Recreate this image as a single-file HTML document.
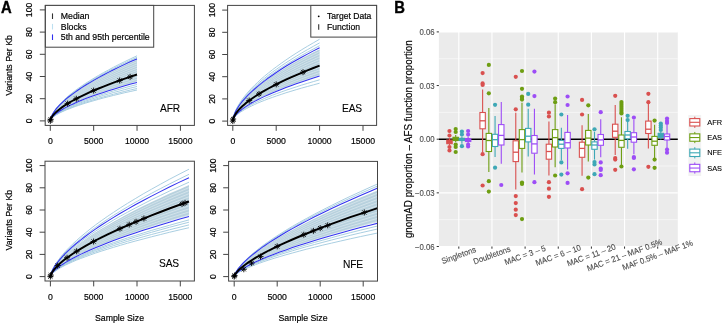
<!DOCTYPE html>
<html><head><meta charset="utf-8"><style>
html,body{margin:0;padding:0;background:#fff;}
svg{display:block;will-change:transform;}
text{font-family:"Liberation Sans", sans-serif;}
</style></head><body>
<svg width="724" height="325" viewBox="0 0 724 325">
<clipPath id="clipAFR"><rect x="45.2" y="5.4" width="149.2" height="120.0"/></clipPath>
<g clip-path="url(#clipAFR)">
<path d="M50.3,120.9 50.3,120.3 50.5,119.3 50.8,118.2 51.3,116.9 52.0,115.4 52.8,113.9 53.8,112.3 55.0,110.6 56.4,108.9 58.0,107.0 59.8,105.1 61.9,103.1 64.1,101.1 66.5,99.0 69.2,96.9 72.1,94.7 75.2,92.5 78.5,90.2 82.1,87.9 85.8,85.5 89.9,83.1 94.1,80.7 98.6,78.2 103.4,75.7 108.4,73.1 113.6,70.5 119.1,67.9 124.8,65.2 130.8,62.5 137.0,59.8 L137.0,81.8 L130.8,83.5 L124.8,85.3 L119.1,87.0 L113.6,88.7 L108.4,90.3 L103.4,92.0 L98.6,93.6 L94.1,95.2 L89.9,96.7 L85.8,98.3 L82.1,99.8 L78.5,101.3 L75.2,102.7 L72.1,104.2 L69.2,105.5 L66.5,106.9 L64.1,108.2 L61.9,109.5 L59.8,110.8 L58.0,112.0 L56.4,113.2 L55.0,114.3 L53.8,115.4 L52.8,116.4 L52.0,117.4 L51.3,118.3 L50.8,119.1 L50.5,119.9 L50.3,120.5 L50.3,120.9 Z" fill="#bcd4e0"/>
<path d="M50.3,120.9 50.3,120.5 50.5,119.9 50.8,119.1 51.3,118.3 52.0,117.4 52.8,116.4 53.8,115.4 55.0,114.3 56.4,113.1 58.0,111.9 59.8,110.7 61.9,109.4 64.1,108.1 66.5,106.8 69.2,105.4 72.1,104.0 75.2,102.6 78.5,101.1 82.1,99.6 85.8,98.1 89.9,96.5 94.1,94.9 98.6,93.3 103.4,91.7 108.4,90.0 113.6,88.4 119.1,86.7 124.8,84.9 130.8,83.2 137.0,81.4 M50.3,120.9 50.3,120.5 50.5,119.8 50.8,119.0 51.3,118.1 52.0,117.2 52.8,116.1 53.8,115.0 55.0,113.9 56.4,112.7 58.0,111.4 59.8,110.1 61.9,108.8 64.1,107.4 66.5,106.0 69.2,104.5 72.1,103.1 75.2,101.5 78.5,100.0 82.1,98.4 85.8,96.8 89.9,95.1 94.1,93.5 98.6,91.8 103.4,90.1 108.4,88.3 113.6,86.5 119.1,84.8 124.8,82.9 130.8,81.1 137.0,79.2 M50.3,120.9 50.3,120.5 50.5,119.8 50.8,118.9 51.3,118.0 52.0,117.0 52.8,115.9 53.8,114.7 55.0,113.5 56.4,112.3 58.0,110.9 59.8,109.6 61.9,108.2 64.1,106.7 66.5,105.2 69.2,103.7 72.1,102.1 75.2,100.5 78.5,98.9 82.1,97.2 85.8,95.5 89.9,93.8 94.1,92.0 98.6,90.2 103.4,88.4 108.4,86.6 113.6,84.7 119.1,82.8 124.8,80.9 130.8,79.0 137.0,77.0 M50.3,120.9 50.3,120.4 50.5,119.7 50.8,118.8 51.3,117.9 52.0,116.8 52.8,115.6 53.8,114.4 55.0,113.2 56.4,111.8 58.0,110.4 59.8,109.0 61.9,107.5 64.1,106.0 66.5,104.4 69.2,102.8 72.1,101.2 75.2,99.5 78.5,97.8 82.1,96.0 85.8,94.2 89.9,92.4 94.1,90.6 98.6,88.7 103.4,86.8 108.4,84.9 113.6,82.9 119.1,80.9 124.8,78.9 130.8,76.9 137.0,74.8 M50.3,120.9 50.3,120.4 50.5,119.6 50.8,118.7 51.3,117.7 52.0,116.6 52.8,115.4 53.8,114.1 55.0,112.8 56.4,111.4 58.0,109.9 59.8,108.4 61.9,106.9 64.1,105.3 66.5,103.6 69.2,101.9 72.1,100.2 75.2,98.5 78.5,96.7 82.1,94.8 85.8,93.0 89.9,91.1 94.1,89.1 98.6,87.2 103.4,85.2 108.4,83.2 113.6,81.1 119.1,79.0 124.8,76.9 130.8,74.8 137.0,72.6 M50.3,120.9 50.3,120.4 50.5,119.6 50.8,118.6 51.3,117.6 52.0,116.4 52.8,115.1 53.8,113.8 55.0,112.4 56.4,110.9 58.0,109.4 59.8,107.9 61.9,106.2 64.1,104.6 66.5,102.8 69.2,101.1 72.1,99.3 75.2,97.4 78.5,95.6 82.1,93.6 85.8,91.7 89.9,89.7 94.1,87.7 98.6,85.6 103.4,83.5 108.4,81.4 113.6,79.3 119.1,77.1 124.8,74.9 130.8,72.7 137.0,70.4 M50.3,120.9 50.3,120.4 50.5,119.5 50.8,118.5 51.3,117.4 52.0,116.2 52.8,114.9 53.8,113.5 55.0,112.0 56.4,110.5 58.0,108.9 59.8,107.3 61.9,105.6 64.1,103.8 66.5,102.1 69.2,100.2 72.1,98.3 75.2,96.4 78.5,94.5 82.1,92.5 85.8,90.4 89.9,88.3 94.1,86.2 98.6,84.1 103.4,81.9 108.4,79.7 113.6,77.5 119.1,75.2 124.8,72.9 130.8,70.6 137.0,68.2 M50.3,120.9 50.3,120.3 50.5,119.5 50.8,118.4 51.3,117.3 52.0,116.0 52.8,114.6 53.8,113.2 55.0,111.7 56.4,110.1 58.0,108.4 59.8,106.7 61.9,105.0 64.1,103.1 66.5,101.3 69.2,99.4 72.1,97.4 75.2,95.4 78.5,93.3 82.1,91.3 85.8,89.1 89.9,87.0 94.1,84.8 98.6,82.6 103.4,80.3 108.4,78.0 113.6,75.7 119.1,73.3 124.8,70.9 130.8,68.5 137.0,66.0 M50.3,120.9 50.3,120.3 50.5,119.4 50.8,118.3 51.3,117.1 52.0,115.8 52.8,114.4 53.8,112.9 55.0,111.3 56.4,109.6 58.0,107.9 59.8,106.2 61.9,104.3 64.1,102.4 66.5,100.5 69.2,98.5 72.1,96.5 75.2,94.4 78.5,92.2 82.1,90.1 85.8,87.9 89.9,85.6 94.1,83.3 98.6,81.0 103.4,78.7 108.4,76.3 113.6,73.8 119.1,71.4 124.8,68.9 130.8,66.4 137.0,63.8 M50.3,120.9 50.3,120.3 50.5,119.4 50.8,118.2 51.3,117.0 52.0,115.6 52.8,114.1 53.8,112.6 55.0,110.9 56.4,109.2 58.0,107.4 59.8,105.6 61.9,103.7 64.1,101.7 66.5,99.7 69.2,97.6 72.1,95.5 75.2,93.3 78.5,91.1 82.1,88.9 85.8,86.6 89.9,84.3 94.1,81.9 98.6,79.5 103.4,77.0 108.4,74.6 113.6,72.0 119.1,69.5 124.8,66.9 130.8,64.3 137.0,61.6" fill="none" stroke="#ffffff" stroke-opacity="0.45" stroke-width="0.8"/>
<path d="M50.3,120.9 50.3,120.5 50.5,119.9 50.8,119.1 51.3,118.2 52.0,117.3 52.8,116.3 53.8,115.3 55.0,114.1 56.4,113.0 58.0,111.8 59.8,110.5 61.9,109.2 64.1,107.9 66.5,106.5 69.2,105.1 72.1,103.7 75.2,102.2 78.5,100.7 82.1,99.2 85.8,97.6 89.9,96.1 94.1,94.4 98.6,92.8 103.4,91.1 108.4,89.5 113.6,87.8 119.1,86.0 124.8,84.3 130.8,82.5 137.0,80.7 M50.3,120.9 50.3,120.5 50.5,119.8 50.8,119.0 51.3,118.1 52.0,117.1 52.8,116.1 53.8,114.9 55.0,113.8 56.4,112.5 58.0,111.3 59.8,109.9 61.9,108.6 64.1,107.2 66.5,105.7 69.2,104.3 72.1,102.7 75.2,101.2 78.5,99.6 82.1,98.0 85.8,96.4 89.9,94.7 94.1,93.0 98.6,91.3 103.4,89.5 108.4,87.7 113.6,85.9 119.1,84.1 124.8,82.3 130.8,80.4 137.0,78.5 M50.3,120.9 50.3,120.4 50.5,119.7 50.8,118.9 51.3,118.0 52.0,116.9 52.8,115.8 53.8,114.6 55.0,113.4 56.4,112.1 58.0,110.8 59.8,109.4 61.9,107.9 64.1,106.5 66.5,104.9 69.2,103.4 72.1,101.8 75.2,100.2 78.5,98.5 82.1,96.8 85.8,95.1 89.9,93.3 94.1,91.5 98.6,89.7 103.4,87.9 108.4,86.0 113.6,84.1 119.1,82.2 124.8,80.3 130.8,78.3 137.0,76.3 M50.3,120.9 50.3,120.4 50.5,119.7 50.8,118.8 51.3,117.8 52.0,116.7 52.8,115.6 53.8,114.3 55.0,113.0 56.4,111.7 58.0,110.3 59.8,108.8 61.9,107.3 64.1,105.7 66.5,104.2 69.2,102.5 72.1,100.9 75.2,99.1 78.5,97.4 82.1,95.6 85.8,93.8 89.9,92.0 94.1,90.1 98.6,88.2 103.4,86.3 108.4,84.3 113.6,82.3 119.1,80.3 124.8,78.3 130.8,76.2 137.0,74.1 M50.3,120.9 50.3,120.4 50.5,119.6 50.8,118.7 51.3,117.7 52.0,116.5 52.8,115.3 53.8,114.0 55.0,112.7 56.4,111.2 58.0,109.8 59.8,108.2 61.9,106.7 64.1,105.0 66.5,103.4 69.2,101.7 72.1,99.9 75.2,98.1 78.5,96.3 82.1,94.4 85.8,92.5 89.9,90.6 94.1,88.6 98.6,86.7 103.4,84.6 108.4,82.6 113.6,80.5 119.1,78.4 124.8,76.3 130.8,74.1 137.0,71.9 M50.3,120.9 50.3,120.4 50.5,119.6 50.8,118.6 51.3,117.5 52.0,116.3 52.8,115.1 53.8,113.7 55.0,112.3 56.4,110.8 58.0,109.3 59.8,107.7 61.9,106.0 64.1,104.3 66.5,102.6 69.2,100.8 72.1,99.0 75.2,97.1 78.5,95.2 82.1,93.2 85.8,91.3 89.9,89.3 94.1,87.2 98.6,85.1 103.4,83.0 108.4,80.9 113.6,78.7 119.1,76.5 124.8,74.2 130.8,72.0 137.0,69.7 M50.3,120.9 50.3,120.4 50.5,119.5 50.8,118.5 51.3,117.4 52.0,116.1 52.8,114.8 53.8,113.4 55.0,111.9 56.4,110.4 58.0,108.8 59.8,107.1 61.9,105.4 64.1,103.6 66.5,101.8 69.2,99.9 72.1,98.0 75.2,96.1 78.5,94.1 82.1,92.1 85.8,90.0 89.9,87.9 94.1,85.8 98.6,83.6 103.4,81.4 108.4,79.1 113.6,76.9 119.1,74.6 124.8,72.2 130.8,69.9 137.0,67.5 M50.3,120.9 50.3,120.3 50.5,119.5 50.8,118.4 51.3,117.2 52.0,115.9 52.8,114.6 53.8,113.1 55.0,111.5 56.4,109.9 58.0,108.3 59.8,106.5 61.9,104.7 64.1,102.9 66.5,101.0 69.2,99.1 72.1,97.1 75.2,95.1 78.5,93.0 82.1,90.9 85.8,88.7 89.9,86.5 94.1,84.3 98.6,82.0 103.4,79.7 108.4,77.4 113.6,75.1 119.1,72.7 124.8,70.2 130.8,67.8 137.0,65.3 M50.3,120.9 50.3,120.3 50.5,119.4 50.8,118.3 51.3,117.1 52.0,115.7 52.8,114.3 53.8,112.8 55.0,111.2 56.4,109.5 58.0,107.8 59.8,106.0 61.9,104.1 64.1,102.2 66.5,100.2 69.2,98.2 72.1,96.1 75.2,94.0 78.5,91.9 82.1,89.7 85.8,87.4 89.9,85.2 94.1,82.9 98.6,80.5 103.4,78.1 108.4,75.7 113.6,73.2 119.1,70.8 124.8,68.2 130.8,65.7 137.0,63.1 M50.3,120.9 50.3,120.3 50.5,119.3 50.8,118.2 51.3,116.9 52.0,115.5 52.8,114.1 53.8,112.5 55.0,110.8 56.4,109.1 58.0,107.3 59.8,105.4 61.9,103.5 64.1,101.5 66.5,99.4 69.2,97.3 72.1,95.2 75.2,93.0 78.5,90.8 82.1,88.5 85.8,86.2 89.9,83.8 94.1,81.4 98.6,79.0 103.4,76.5 108.4,74.0 113.6,71.4 119.1,68.8 124.8,66.2 130.8,63.6 137.0,60.9" fill="none" stroke="#a9c8d8" stroke-opacity="0.5" stroke-width="0.7"/>
<path d="M50.3,120.9 50.3,120.2 50.5,119.2 50.8,118.0 51.3,116.6 52.0,115.1 52.8,113.5 53.8,111.8 55.0,109.9 56.4,108.1 58.0,106.1 59.8,104.1 61.9,102.0 64.1,99.8 66.5,97.6 69.2,95.3 72.1,93.0 75.2,90.6 78.5,88.2 82.1,85.7 85.8,83.2 89.9,80.7 94.1,78.1 98.6,75.4 103.4,72.7 108.4,70.0 113.6,67.2 119.1,64.4 124.8,61.6 130.8,58.7 137.0,55.8 M50.3,120.9 50.3,120.3 50.5,119.3 50.8,118.0 51.3,116.7 52.0,115.2 52.8,113.6 53.8,112.0 55.0,110.2 56.4,108.4 58.0,106.4 59.8,104.5 61.9,102.4 64.1,100.3 66.5,98.1 69.2,95.9 72.1,93.7 75.2,91.3 78.5,89.0 82.1,86.5 85.8,84.1 89.9,81.6 94.1,79.0 98.6,76.5 103.4,73.8 108.4,71.2 113.6,68.5 119.1,65.7 124.8,63.0 130.8,60.1 137.0,57.3 M50.3,120.9 50.3,120.3 50.5,119.3 50.8,118.1 51.3,116.8 52.0,115.3 52.8,113.8 53.8,112.1 55.0,110.4 56.4,108.6 58.0,106.7 59.8,104.7 61.9,102.7 64.1,100.7 66.5,98.5 69.2,96.4 72.1,94.1 75.2,91.8 78.5,89.5 82.1,87.1 85.8,84.7 89.9,82.3 94.1,79.8 98.6,77.2 103.4,74.6 108.4,72.0 113.6,69.4 119.1,66.7 124.8,64.0 130.8,61.2 137.0,58.4 M50.3,120.9 50.3,120.5 50.5,120.0 50.8,119.3 51.3,118.5 52.0,117.7 52.8,116.7 53.8,115.8 55.0,114.8 56.4,113.7 58.0,112.6 59.8,111.5 61.9,110.3 64.1,109.1 66.5,107.9 69.2,106.6 72.1,105.3 75.2,104.0 78.5,102.6 82.1,101.2 85.8,99.8 89.9,98.4 94.1,96.9 98.6,95.5 103.4,94.0 108.4,92.4 113.6,90.9 119.1,89.3 124.8,87.7 130.8,86.1 137.0,84.5 M50.3,120.9 50.3,120.5 50.5,120.0 50.8,119.4 51.3,118.6 52.0,117.8 52.8,117.0 53.8,116.1 55.0,115.1 56.4,114.1 58.0,113.1 59.8,112.0 61.9,110.9 64.1,109.8 66.5,108.6 69.2,107.4 72.1,106.2 75.2,104.9 78.5,103.6 82.1,102.3 85.8,101.0 89.9,99.6 94.1,98.3 98.6,96.9 103.4,95.4 108.4,94.0 113.6,92.5 119.1,91.1 124.8,89.6 130.8,88.0 137.0,86.5 M50.3,120.9 50.3,120.6 50.5,120.1 50.8,119.4 51.3,118.8 52.0,118.0 52.8,117.2 53.8,116.3 55.0,115.4 56.4,114.5 58.0,113.5 59.8,112.5 61.9,111.5 64.1,110.4 66.5,109.3 69.2,108.2 72.1,107.0 75.2,105.8 78.5,104.6 82.1,103.4 85.8,102.1 89.9,100.9 94.1,99.6 98.6,98.3 103.4,96.9 108.4,95.6 113.6,94.2 119.1,92.8 124.8,91.4 130.8,89.9 137.0,88.5 M50.3,120.9 50.3,120.6 50.5,120.1 50.8,119.5 51.3,118.9 52.0,118.1 52.8,117.4 53.8,116.6 55.0,115.7 56.4,114.8 58.0,113.9 59.8,112.9 61.9,111.9 64.1,110.9 66.5,109.8 69.2,108.8 72.1,107.7 75.2,106.5 78.5,105.4 82.1,104.2 85.8,103.0 89.9,101.8 94.1,100.6 98.6,99.3 103.4,98.0 108.4,96.7 113.6,95.4 119.1,94.1 124.8,92.7 130.8,91.4 137.0,90.0" fill="none" stroke="#a0c9de" stroke-opacity="0.9" stroke-width="1.0"/>
<path d="M50.3,120.9 50.3,120.3 50.5,119.3 50.8,118.1 51.3,116.8 52.0,115.4 52.8,113.8 53.8,112.2 55.0,110.5 56.4,108.7 58.0,106.8 59.8,104.9 61.9,102.9 64.1,100.8 66.5,98.7 69.2,96.5 72.1,94.3 75.2,92.1 78.5,89.8 82.1,87.4 85.8,85.0 89.9,82.6 94.1,80.1 98.6,77.6 103.4,75.0 108.4,72.4 113.6,69.8 119.1,67.1 124.8,64.4 130.8,61.6 137.0,58.9" fill="none" stroke="#3333f0" stroke-width="1.05"/>
<path d="M50.3,120.9 50.3,120.5 50.5,119.9 50.8,119.2 51.3,118.4 52.0,117.5 52.8,116.5 53.8,115.5 55.0,114.4 56.4,113.3 58.0,112.2 59.8,111.0 61.9,109.7 64.1,108.4 66.5,107.1 69.2,105.8 72.1,104.4 75.2,103.0 78.5,101.6 82.1,100.1 85.8,98.6 89.9,97.1 94.1,95.6 98.6,94.0 103.4,92.4 108.4,90.8 113.6,89.2 119.1,87.5 124.8,85.8 130.8,84.1 137.0,82.4" fill="none" stroke="#3333f0" stroke-width="1.05"/>
<path d="M50.3,120.9 50.3,120.4 50.5,119.7 50.8,118.8 51.3,117.8 52.0,116.8 52.8,115.6 53.8,114.4 55.0,113.1 56.4,111.8 58.0,110.4 59.8,108.9 61.9,107.4 64.1,105.9 66.5,104.3 69.2,102.7 72.1,101.0 75.2,99.3 78.5,97.6 82.1,95.9 85.8,94.1 89.9,92.2 94.1,90.4 98.6,88.5 103.4,86.6 108.4,84.6 113.6,82.7 119.1,80.7 124.8,78.7 130.8,76.6 137.0,74.5" fill="none" stroke="#000" stroke-width="1.95"/>
<g stroke="#000" stroke-width="0.9"><line x1="47.30" y1="120.90" x2="53.30" y2="120.90"/><line x1="50.30" y1="117.90" x2="50.30" y2="123.90"/><line x1="48.20" y1="118.80" x2="52.40" y2="123.00"/><line x1="48.20" y1="123.00" x2="52.40" y2="118.80"/></g>
<g stroke="#000" stroke-width="0.9"><line x1="47.65" y1="119.33" x2="53.65" y2="119.33"/><line x1="50.65" y1="116.33" x2="50.65" y2="122.33"/><line x1="48.55" y1="117.23" x2="52.75" y2="121.43"/><line x1="48.55" y1="121.43" x2="52.75" y2="117.23"/></g>
<g stroke="#000" stroke-width="0.9"><line x1="64.65" y1="103.62" x2="70.65" y2="103.62"/><line x1="67.65" y1="100.62" x2="67.65" y2="106.62"/><line x1="65.55" y1="101.52" x2="69.75" y2="105.72"/><line x1="65.55" y1="105.72" x2="69.75" y2="101.52"/></g>
<g stroke="#000" stroke-width="0.9"><line x1="73.32" y1="98.74" x2="79.32" y2="98.74"/><line x1="76.32" y1="95.74" x2="76.32" y2="101.74"/><line x1="74.22" y1="96.64" x2="78.42" y2="100.84"/><line x1="74.22" y1="100.84" x2="78.42" y2="96.64"/></g>
<g stroke="#000" stroke-width="0.9"><line x1="90.67" y1="90.59" x2="96.67" y2="90.59"/><line x1="93.67" y1="87.59" x2="93.67" y2="93.59"/><line x1="91.57" y1="88.49" x2="95.77" y2="92.69"/><line x1="91.57" y1="92.69" x2="95.77" y2="88.49"/></g>
<g stroke="#000" stroke-width="0.9"><line x1="116.69" y1="80.47" x2="122.69" y2="80.47"/><line x1="119.69" y1="77.47" x2="119.69" y2="83.47"/><line x1="117.59" y1="78.37" x2="121.79" y2="82.57"/><line x1="117.59" y1="82.57" x2="121.79" y2="78.37"/></g>
<g stroke="#000" stroke-width="0.9"><line x1="127.10" y1="76.85" x2="133.10" y2="76.85"/><line x1="130.10" y1="73.85" x2="130.10" y2="79.85"/><line x1="128.00" y1="74.75" x2="132.20" y2="78.95"/><line x1="128.00" y1="78.95" x2="132.20" y2="74.75"/></g>
</g>
<rect x="45.2" y="5.4" width="149.20" height="120.00" fill="none" stroke="#444" stroke-width="1"/>
<line x1="39.80" y1="120.90" x2="45.20" y2="120.90" stroke="#444" stroke-width="1"/>
<text transform="translate(29.40 120.90) rotate(-90) scale(1 1.07)" text-anchor="middle" dominant-baseline="central" font-size="8.7" fill="#000" stroke="#000" stroke-width="0.18">0</text>
<line x1="39.80" y1="98.70" x2="45.20" y2="98.70" stroke="#444" stroke-width="1"/>
<text transform="translate(29.40 98.70) rotate(-90) scale(1 1.07)" text-anchor="middle" dominant-baseline="central" font-size="8.7" fill="#000" stroke="#000" stroke-width="0.18">20</text>
<line x1="39.80" y1="76.50" x2="45.20" y2="76.50" stroke="#444" stroke-width="1"/>
<text transform="translate(29.40 76.50) rotate(-90) scale(1 1.07)" text-anchor="middle" dominant-baseline="central" font-size="8.7" fill="#000" stroke="#000" stroke-width="0.18">40</text>
<line x1="39.80" y1="54.30" x2="45.20" y2="54.30" stroke="#444" stroke-width="1"/>
<text transform="translate(29.40 54.30) rotate(-90) scale(1 1.07)" text-anchor="middle" dominant-baseline="central" font-size="8.7" fill="#000" stroke="#000" stroke-width="0.18">60</text>
<line x1="39.80" y1="32.10" x2="45.20" y2="32.10" stroke="#444" stroke-width="1"/>
<text transform="translate(29.40 32.10) rotate(-90) scale(1 1.07)" text-anchor="middle" dominant-baseline="central" font-size="8.7" fill="#000" stroke="#000" stroke-width="0.18">80</text>
<line x1="39.80" y1="9.90" x2="45.20" y2="9.90" stroke="#444" stroke-width="1"/>
<text transform="translate(29.40 9.90) rotate(-90) scale(1 1.07)" text-anchor="middle" dominant-baseline="central" font-size="8.7" fill="#000" stroke="#000" stroke-width="0.18">100</text>
<line x1="50.30" y1="125.40" x2="50.30" y2="130.80" stroke="#444" stroke-width="1"/>
<text transform="translate(50.30 141.40) scale(1 1.07)" text-anchor="middle" dominant-baseline="central" font-size="8.7" fill="#000" stroke="#000" stroke-width="0.18">0</text>
<line x1="93.67" y1="125.40" x2="93.67" y2="130.80" stroke="#444" stroke-width="1"/>
<text transform="translate(93.67 141.40) scale(1 1.07)" text-anchor="middle" dominant-baseline="central" font-size="8.7" fill="#000" stroke="#000" stroke-width="0.18">5000</text>
<line x1="137.04" y1="125.40" x2="137.04" y2="130.80" stroke="#444" stroke-width="1"/>
<text transform="translate(137.04 141.40) scale(1 1.07)" text-anchor="middle" dominant-baseline="central" font-size="8.7" fill="#000" stroke="#000" stroke-width="0.18">10000</text>
<line x1="180.41" y1="125.40" x2="180.41" y2="130.80" stroke="#444" stroke-width="1"/>
<text transform="translate(180.41 141.40) scale(1 1.07)" text-anchor="middle" dominant-baseline="central" font-size="8.7" fill="#000" stroke="#000" stroke-width="0.18">15000</text>
<text transform="translate(170.00 108.00)" text-anchor="middle" dominant-baseline="central" font-size="10.2" fill="#000" stroke="#000" stroke-width="0.1" letter-spacing="-0.2">AFR</text>
<clipPath id="clipEAS"><rect x="227.6" y="5.4" width="149.00000000000003" height="120.0"/></clipPath>
<g clip-path="url(#clipEAS)">
<path d="M232.8,121.1 232.8,120.3 233.0,119.0 233.3,117.6 233.8,116.0 234.5,114.3 235.3,112.4 236.3,110.5 237.5,108.4 238.9,106.3 240.5,104.1 242.3,101.8 244.4,99.5 246.6,97.1 249.0,94.7 251.7,92.2 254.6,89.6 257.7,87.0 261.0,84.3 264.6,81.6 268.4,78.9 272.4,76.1 276.7,73.3 281.2,70.4 285.9,67.5 290.9,64.5 296.2,61.5 301.6,58.5 307.4,55.4 313.4,52.3 319.6,49.2 L319.6,75.5 L313.4,77.5 L307.4,79.5 L301.6,81.4 L296.2,83.3 L290.9,85.2 L285.9,87.1 L281.2,88.9 L276.7,90.8 L272.4,92.6 L268.4,94.3 L264.6,96.1 L261.0,97.8 L257.7,99.5 L254.6,101.1 L251.7,102.8 L249.0,104.3 L246.6,105.9 L244.4,107.4 L242.3,108.9 L240.5,110.3 L238.9,111.7 L237.5,113.1 L236.3,114.4 L235.3,115.6 L234.5,116.8 L233.8,117.9 L233.3,118.9 L233.0,119.8 L232.8,120.6 L232.8,121.1 Z" fill="#bcd4e0"/>
<path d="M232.8,121.1 232.8,120.6 233.0,119.8 233.3,118.9 233.8,117.8 234.5,116.7 235.3,115.5 236.3,114.3 237.5,113.0 238.9,111.6 240.5,110.2 242.3,108.8 244.4,107.3 246.6,105.7 249.0,104.2 251.7,102.6 254.6,100.9 257.7,99.3 261.0,97.6 264.6,95.8 268.4,94.1 272.4,92.3 276.7,90.5 281.2,88.6 285.9,86.8 290.9,84.9 296.2,83.0 301.6,81.0 307.4,79.1 313.4,77.1 319.6,75.1 M232.8,121.1 232.8,120.5 233.0,119.7 233.3,118.7 233.8,117.6 234.5,116.5 235.3,115.2 236.3,113.9 237.5,112.5 238.9,111.1 240.5,109.6 242.3,108.1 244.4,106.5 246.6,104.9 249.0,103.2 251.7,101.5 254.6,99.8 257.7,98.0 261.0,96.2 264.6,94.4 268.4,92.5 272.4,90.6 276.7,88.7 281.2,86.8 285.9,84.8 290.9,82.8 296.2,80.8 301.6,78.7 307.4,76.6 313.4,74.6 319.6,72.4 M232.8,121.1 232.8,120.5 233.0,119.6 233.3,118.6 233.8,117.5 234.5,116.2 235.3,114.9 236.3,113.5 237.5,112.1 238.9,110.5 240.5,109.0 242.3,107.4 244.4,105.7 246.6,104.0 249.0,102.2 251.7,100.5 254.6,98.6 257.7,96.8 261.0,94.9 264.6,92.9 268.4,91.0 272.4,89.0 276.7,87.0 281.2,84.9 285.9,82.8 290.9,80.7 296.2,78.6 301.6,76.4 307.4,74.2 313.4,72.0 319.6,69.8 M232.8,121.1 232.8,120.5 233.0,119.6 233.3,118.5 233.8,117.3 234.5,116.0 235.3,114.6 236.3,113.1 237.5,111.6 238.9,110.0 240.5,108.4 242.3,106.7 244.4,104.9 246.6,103.1 249.0,101.3 251.7,99.4 254.6,97.5 257.7,95.5 261.0,93.5 264.6,91.5 268.4,89.4 272.4,87.3 276.7,85.2 281.2,83.1 285.9,80.9 290.9,78.7 296.2,76.4 301.6,74.1 307.4,71.8 313.4,69.5 319.6,67.2 M232.8,121.1 232.8,120.5 233.0,119.5 233.3,118.4 233.8,117.1 234.5,115.7 235.3,114.3 236.3,112.7 237.5,111.1 238.9,109.5 240.5,107.7 242.3,106.0 244.4,104.1 246.6,102.2 249.0,100.3 251.7,98.3 254.6,96.3 257.7,94.3 261.0,92.2 264.6,90.1 268.4,87.9 272.4,85.7 276.7,83.5 281.2,81.2 285.9,78.9 290.9,76.6 296.2,74.2 301.6,71.9 307.4,69.4 313.4,67.0 319.6,64.5 M232.8,121.1 232.8,120.4 233.0,119.4 233.3,118.2 233.8,116.9 234.5,115.5 235.3,114.0 236.3,112.3 237.5,110.7 238.9,108.9 240.5,107.1 242.3,105.3 244.4,103.3 246.6,101.4 249.0,99.3 251.7,97.3 254.6,95.2 257.7,93.0 261.0,90.8 264.6,88.6 268.4,86.3 272.4,84.1 276.7,81.7 281.2,79.3 285.9,76.9 290.9,74.5 296.2,72.1 301.6,69.6 307.4,67.0 313.4,64.5 319.6,61.9 M232.8,121.1 232.8,120.4 233.0,119.3 233.3,118.1 233.8,116.7 234.5,115.2 235.3,113.6 236.3,112.0 237.5,110.2 238.9,108.4 240.5,106.5 242.3,104.5 244.4,102.5 246.6,100.5 249.0,98.4 251.7,96.2 254.6,94.0 257.7,91.8 261.0,89.5 264.6,87.2 268.4,84.8 272.4,82.4 276.7,80.0 281.2,77.5 285.9,75.0 290.9,72.4 296.2,69.9 301.6,67.3 307.4,64.6 313.4,62.0 319.6,59.3 M232.8,121.1 232.8,120.4 233.0,119.3 233.3,118.0 233.8,116.5 234.5,115.0 235.3,113.3 236.3,111.6 237.5,109.7 238.9,107.8 240.5,105.9 242.3,103.8 244.4,101.8 246.6,99.6 249.0,97.4 251.7,95.2 254.6,92.9 257.7,90.5 261.0,88.2 264.6,85.7 268.4,83.3 272.4,80.8 276.7,78.2 281.2,75.6 285.9,73.0 290.9,70.4 296.2,67.7 301.6,65.0 307.4,62.2 313.4,59.5 319.6,56.7 M232.8,121.1 232.8,120.3 233.0,119.2 233.3,117.8 233.8,116.3 234.5,114.7 235.3,113.0 236.3,111.2 237.5,109.3 238.9,107.3 240.5,105.3 242.3,103.1 244.4,101.0 246.6,98.7 249.0,96.4 251.7,94.1 254.6,91.7 257.7,89.3 261.0,86.8 264.6,84.3 268.4,81.7 272.4,79.1 276.7,76.5 281.2,73.8 285.9,71.1 290.9,68.3 296.2,65.5 301.6,62.7 307.4,59.8 313.4,56.9 319.6,54.0 M232.8,121.1 232.8,120.3 233.0,119.1 233.3,117.7 233.8,116.2 234.5,114.5 235.3,112.7 236.3,110.8 237.5,108.8 238.9,106.8 240.5,104.6 242.3,102.4 244.4,100.2 246.6,97.9 249.0,95.5 251.7,93.1 254.6,90.6 257.7,88.0 261.0,85.5 264.6,82.8 268.4,80.2 272.4,77.5 276.7,74.7 281.2,71.9 285.9,69.1 290.9,66.2 296.2,63.3 301.6,60.4 307.4,57.4 313.4,54.4 319.6,51.4" fill="none" stroke="#ffffff" stroke-opacity="0.45" stroke-width="0.8"/>
<path d="M232.8,121.1 232.8,120.6 233.0,119.8 233.3,118.8 233.8,117.8 234.5,116.6 235.3,115.4 236.3,114.2 237.5,112.8 238.9,111.4 240.5,110.0 242.3,108.5 244.4,107.0 246.6,105.5 249.0,103.9 251.7,102.2 254.6,100.6 257.7,98.8 261.0,97.1 264.6,95.4 268.4,93.6 272.4,91.7 276.7,89.9 281.2,88.0 285.9,86.1 290.9,84.2 296.2,82.2 301.6,80.2 307.4,78.2 313.4,76.2 319.6,74.2 M232.8,121.1 232.8,120.5 233.0,119.7 233.3,118.7 233.8,117.6 234.5,116.4 235.3,115.1 236.3,113.8 237.5,112.4 238.9,110.9 240.5,109.4 242.3,107.8 244.4,106.2 246.6,104.6 249.0,102.9 251.7,101.2 254.6,99.4 257.7,97.6 261.0,95.8 264.6,93.9 268.4,92.0 272.4,90.1 276.7,88.1 281.2,86.2 285.9,84.1 290.9,82.1 296.2,80.0 301.6,78.0 307.4,75.8 313.4,73.7 319.6,71.6 M232.8,121.1 232.8,120.5 233.0,119.6 233.3,118.6 233.8,117.4 234.5,116.1 235.3,114.8 236.3,113.4 237.5,111.9 238.9,110.4 240.5,108.8 242.3,107.1 244.4,105.4 246.6,103.7 249.0,101.9 251.7,100.1 254.6,98.2 257.7,96.4 261.0,94.4 264.6,92.5 268.4,90.5 272.4,88.4 276.7,86.4 281.2,84.3 285.9,82.2 290.9,80.0 296.2,77.9 301.6,75.7 307.4,73.4 313.4,71.2 319.6,68.9 M232.8,121.1 232.8,120.5 233.0,119.5 233.3,118.4 233.8,117.2 234.5,115.9 235.3,114.5 236.3,113.0 237.5,111.4 238.9,109.8 240.5,108.2 242.3,106.4 244.4,104.7 246.6,102.8 249.0,101.0 251.7,99.0 254.6,97.1 257.7,95.1 261.0,93.1 264.6,91.0 268.4,88.9 272.4,86.8 276.7,84.6 281.2,82.4 285.9,80.2 290.9,78.0 296.2,75.7 301.6,73.4 307.4,71.0 313.4,68.7 319.6,66.3 M232.8,121.1 232.8,120.4 233.0,119.5 233.3,118.3 233.8,117.0 234.5,115.6 235.3,114.2 236.3,112.6 237.5,111.0 238.9,109.3 240.5,107.5 242.3,105.7 244.4,103.9 246.6,101.9 249.0,100.0 251.7,98.0 254.6,95.9 257.7,93.9 261.0,91.7 264.6,89.6 268.4,87.4 272.4,85.1 276.7,82.9 281.2,80.6 285.9,78.3 290.9,75.9 296.2,73.5 301.6,71.1 307.4,68.6 313.4,66.2 319.6,63.7 M232.8,121.1 232.8,120.4 233.0,119.4 233.3,118.2 233.8,116.8 234.5,115.4 235.3,113.8 236.3,112.2 237.5,110.5 238.9,108.7 240.5,106.9 242.3,105.0 244.4,103.1 246.6,101.1 249.0,99.0 251.7,96.9 254.6,94.8 257.7,92.6 261.0,90.4 264.6,88.1 268.4,85.8 272.4,83.5 276.7,81.1 281.2,78.7 285.9,76.3 290.9,73.8 296.2,71.3 301.6,68.8 307.4,66.2 313.4,63.7 319.6,61.0 M232.8,121.1 232.8,120.4 233.0,119.3 233.3,118.1 233.8,116.7 234.5,115.1 235.3,113.5 236.3,111.8 237.5,110.1 238.9,108.2 240.5,106.3 242.3,104.3 244.4,102.3 246.6,100.2 249.0,98.1 251.7,95.9 254.6,93.6 257.7,91.4 261.0,89.0 264.6,86.7 268.4,84.3 272.4,81.9 276.7,79.4 281.2,76.9 285.9,74.3 290.9,71.8 296.2,69.1 301.6,66.5 307.4,63.8 313.4,61.1 319.6,58.4 M232.8,121.1 232.8,120.4 233.0,119.2 233.3,117.9 233.8,116.5 234.5,114.9 235.3,113.2 236.3,111.4 237.5,109.6 238.9,107.7 240.5,105.7 242.3,103.6 244.4,101.5 246.6,99.3 249.0,97.1 251.7,94.8 254.6,92.5 257.7,90.1 261.0,87.7 264.6,85.2 268.4,82.7 272.4,80.2 276.7,77.6 281.2,75.0 285.9,72.4 290.9,69.7 296.2,67.0 301.6,64.2 307.4,61.4 313.4,58.6 319.6,55.8 M232.8,121.1 232.8,120.3 233.0,119.2 233.3,117.8 233.8,116.3 234.5,114.6 235.3,112.9 236.3,111.1 237.5,109.1 238.9,107.1 240.5,105.0 242.3,102.9 244.4,100.7 246.6,98.4 249.0,96.1 251.7,93.8 254.6,91.3 257.7,88.9 261.0,86.4 264.6,83.8 268.4,81.2 272.4,78.6 276.7,75.9 281.2,73.2 285.9,70.4 290.9,67.6 296.2,64.8 301.6,61.9 307.4,59.0 313.4,56.1 319.6,53.1 M232.8,121.1 232.8,120.3 233.0,119.1 233.3,117.7 233.8,116.1 234.5,114.4 235.3,112.6 236.3,110.7 237.5,108.7 238.9,106.6 240.5,104.4 242.3,102.2 244.4,99.9 246.6,97.6 249.0,95.2 251.7,92.7 254.6,90.2 257.7,87.6 261.0,85.0 264.6,82.4 268.4,79.7 272.4,76.9 276.7,74.1 281.2,71.3 285.9,68.4 290.9,65.5 296.2,62.6 301.6,59.6 307.4,56.6 313.4,53.6 319.6,50.5" fill="none" stroke="#a9c8d8" stroke-opacity="0.5" stroke-width="0.7"/>
<path d="M232.8,121.1 232.8,120.2 233.0,118.8 233.3,117.1 233.8,115.3 234.5,113.3 235.3,111.2 236.3,109.0 237.5,106.7 238.9,104.3 240.5,101.8 242.3,99.2 244.4,96.5 246.6,93.8 249.0,91.0 251.7,88.1 254.6,85.2 257.7,82.3 261.0,79.2 264.6,76.1 268.4,73.0 272.4,69.8 276.7,66.6 281.2,63.3 285.9,60.0 290.9,56.6 296.2,53.2 301.6,49.8 307.4,46.3 313.4,42.8 319.6,39.2 M232.8,121.1 232.8,120.2 233.0,118.9 233.3,117.3 233.8,115.6 234.5,113.7 235.3,111.7 236.3,109.5 237.5,107.3 238.9,105.0 240.5,102.6 242.3,100.2 244.4,97.6 246.6,95.0 249.0,92.4 251.7,89.6 254.6,86.9 257.7,84.0 261.0,81.1 264.6,78.2 268.4,75.2 272.4,72.1 276.7,69.1 281.2,65.9 285.9,62.8 290.9,59.6 296.2,56.3 301.6,53.0 307.4,49.7 313.4,46.3 319.6,42.9 M232.8,121.1 232.8,120.2 233.0,118.9 233.3,117.4 233.8,115.8 234.5,113.9 235.3,112.0 236.3,110.0 237.5,107.8 238.9,105.6 240.5,103.3 242.3,100.9 244.4,98.5 246.6,96.0 249.0,93.4 251.7,90.8 254.6,88.1 257.7,85.3 261.0,82.6 264.6,79.7 268.4,76.8 272.4,73.9 276.7,70.9 281.2,67.9 285.9,64.9 290.9,61.8 296.2,58.6 301.6,55.4 307.4,52.2 313.4,49.0 319.6,45.7 M232.8,121.1 232.8,120.6 233.0,119.9 233.3,119.1 233.8,118.2 234.5,117.2 235.3,116.1 236.3,115.0 237.5,113.8 238.9,112.6 240.5,111.3 242.3,110.0 244.4,108.7 246.6,107.3 249.0,105.9 251.7,104.5 254.6,103.0 257.7,101.5 261.0,100.0 264.6,98.4 268.4,96.9 272.4,95.2 276.7,93.6 281.2,92.0 285.9,90.3 290.9,88.6 296.2,86.9 301.6,85.1 307.4,83.4 313.4,81.6 319.6,79.8 M232.8,121.1 232.8,120.7 233.0,120.0 233.3,119.3 233.8,118.4 234.5,117.5 235.3,116.5 236.3,115.5 237.5,114.4 238.9,113.3 240.5,112.1 242.3,111.0 244.4,109.7 246.6,108.5 249.0,107.2 251.7,105.9 254.6,104.5 257.7,103.1 261.0,101.7 264.6,100.3 268.4,98.8 272.4,97.4 276.7,95.9 281.2,94.4 285.9,92.8 290.9,91.3 296.2,89.7 301.6,88.1 307.4,86.5 313.4,84.9 319.6,83.2" fill="none" stroke="#a0c9de" stroke-opacity="0.9" stroke-width="1.0"/>
<path d="M232.8,121.1 232.8,120.3 233.0,119.0 233.3,117.5 233.8,115.9 234.5,114.1 235.3,112.2 236.3,110.2 237.5,108.2 238.9,106.0 240.5,103.8 242.3,101.4 244.4,99.1 246.6,96.6 249.0,94.1 251.7,91.6 254.6,89.0 257.7,86.3 261.0,83.6 264.6,80.8 268.4,78.0 272.4,75.2 276.7,72.3 281.2,69.3 285.9,66.3 290.9,63.3 296.2,60.3 301.6,57.2 307.4,54.1 313.4,50.9 319.6,47.7" fill="none" stroke="#3333f0" stroke-width="1.05"/>
<path d="M232.8,121.1 232.8,120.6 233.0,119.8 233.3,118.9 233.8,117.9 234.5,116.8 235.3,115.7 236.3,114.4 237.5,113.2 238.9,111.8 240.5,110.5 242.3,109.1 244.4,107.6 246.6,106.1 249.0,104.6 251.7,103.0 254.6,101.4 257.7,99.8 261.0,98.1 264.6,96.4 268.4,94.7 272.4,93.0 276.7,91.2 281.2,89.4 285.9,87.6 290.9,85.7 296.2,83.8 301.6,81.9 307.4,80.0 313.4,78.1 319.6,76.1" fill="none" stroke="#3333f0" stroke-width="1.05"/>
<path d="M232.8,121.1 232.8,120.5 233.0,119.5 233.3,118.4 233.8,117.2 234.5,115.8 235.3,114.4 236.3,112.9 237.5,111.3 238.9,109.7 240.5,108.0 242.3,106.2 244.4,104.4 246.6,102.6 249.0,100.7 251.7,98.8 254.6,96.8 257.7,94.8 261.0,92.7 264.6,90.6 268.4,88.5 272.4,86.3 276.7,84.2 281.2,81.9 285.9,79.7 290.9,77.4 296.2,75.1 301.6,72.8 307.4,70.4 313.4,68.0 319.6,65.6" fill="none" stroke="#000" stroke-width="1.95"/>
<g stroke="#000" stroke-width="0.9"><line x1="229.80" y1="121.10" x2="235.80" y2="121.10"/><line x1="232.80" y1="118.10" x2="232.80" y2="124.10"/><line x1="230.70" y1="119.00" x2="234.90" y2="123.20"/><line x1="230.70" y1="123.20" x2="234.90" y2="119.00"/></g>
<g stroke="#000" stroke-width="0.9"><line x1="230.15" y1="119.04" x2="236.15" y2="119.04"/><line x1="233.15" y1="116.04" x2="233.15" y2="122.04"/><line x1="231.05" y1="116.94" x2="235.25" y2="121.14"/><line x1="231.05" y1="121.14" x2="235.25" y2="116.94"/></g>
<g stroke="#000" stroke-width="0.9"><line x1="246.21" y1="100.57" x2="252.21" y2="100.57"/><line x1="249.21" y1="97.57" x2="249.21" y2="103.57"/><line x1="247.11" y1="98.47" x2="251.31" y2="102.67"/><line x1="247.11" y1="102.67" x2="251.31" y2="98.47"/></g>
<g stroke="#000" stroke-width="0.9"><line x1="256.01" y1="93.94" x2="262.01" y2="93.94"/><line x1="259.01" y1="90.94" x2="259.01" y2="96.94"/><line x1="256.91" y1="91.84" x2="261.11" y2="96.04"/><line x1="256.91" y1="96.04" x2="261.11" y2="91.84"/></g>
<g stroke="#000" stroke-width="0.9"><line x1="273.20" y1="84.39" x2="279.20" y2="84.39"/><line x1="276.20" y1="81.39" x2="276.20" y2="87.39"/><line x1="274.10" y1="82.29" x2="278.30" y2="86.49"/><line x1="274.10" y1="86.49" x2="278.30" y2="82.29"/></g>
<g stroke="#000" stroke-width="0.9"><line x1="300.02" y1="72.18" x2="306.02" y2="72.18"/><line x1="303.02" y1="69.18" x2="303.02" y2="75.18"/><line x1="300.92" y1="70.08" x2="305.12" y2="74.28"/><line x1="300.92" y1="74.28" x2="305.12" y2="70.08"/></g>
</g>
<rect x="227.6" y="5.4" width="149.00" height="120.00" fill="none" stroke="#444" stroke-width="1"/>
<line x1="222.20" y1="121.10" x2="227.60" y2="121.10" stroke="#444" stroke-width="1"/>
<text transform="translate(211.80 121.10) rotate(-90) scale(1 1.07)" text-anchor="middle" dominant-baseline="central" font-size="8.7" fill="#000" stroke="#000" stroke-width="0.18">0</text>
<line x1="222.20" y1="98.90" x2="227.60" y2="98.90" stroke="#444" stroke-width="1"/>
<text transform="translate(211.80 98.90) rotate(-90) scale(1 1.07)" text-anchor="middle" dominant-baseline="central" font-size="8.7" fill="#000" stroke="#000" stroke-width="0.18">20</text>
<line x1="222.20" y1="76.70" x2="227.60" y2="76.70" stroke="#444" stroke-width="1"/>
<text transform="translate(211.80 76.70) rotate(-90) scale(1 1.07)" text-anchor="middle" dominant-baseline="central" font-size="8.7" fill="#000" stroke="#000" stroke-width="0.18">40</text>
<line x1="222.20" y1="54.50" x2="227.60" y2="54.50" stroke="#444" stroke-width="1"/>
<text transform="translate(211.80 54.50) rotate(-90) scale(1 1.07)" text-anchor="middle" dominant-baseline="central" font-size="8.7" fill="#000" stroke="#000" stroke-width="0.18">60</text>
<line x1="222.20" y1="32.30" x2="227.60" y2="32.30" stroke="#444" stroke-width="1"/>
<text transform="translate(211.80 32.30) rotate(-90) scale(1 1.07)" text-anchor="middle" dominant-baseline="central" font-size="8.7" fill="#000" stroke="#000" stroke-width="0.18">80</text>
<line x1="222.20" y1="10.10" x2="227.60" y2="10.10" stroke="#444" stroke-width="1"/>
<text transform="translate(211.80 10.10) rotate(-90) scale(1 1.07)" text-anchor="middle" dominant-baseline="central" font-size="8.7" fill="#000" stroke="#000" stroke-width="0.18">100</text>
<line x1="232.80" y1="125.40" x2="232.80" y2="130.80" stroke="#444" stroke-width="1"/>
<text transform="translate(232.80 141.40) scale(1 1.07)" text-anchor="middle" dominant-baseline="central" font-size="8.7" fill="#000" stroke="#000" stroke-width="0.18">0</text>
<line x1="276.20" y1="125.40" x2="276.20" y2="130.80" stroke="#444" stroke-width="1"/>
<text transform="translate(276.20 141.40) scale(1 1.07)" text-anchor="middle" dominant-baseline="central" font-size="8.7" fill="#000" stroke="#000" stroke-width="0.18">5000</text>
<line x1="319.60" y1="125.40" x2="319.60" y2="130.80" stroke="#444" stroke-width="1"/>
<text transform="translate(319.60 141.40) scale(1 1.07)" text-anchor="middle" dominant-baseline="central" font-size="8.7" fill="#000" stroke="#000" stroke-width="0.18">10000</text>
<line x1="363.00" y1="125.40" x2="363.00" y2="130.80" stroke="#444" stroke-width="1"/>
<text transform="translate(363.00 141.40) scale(1 1.07)" text-anchor="middle" dominant-baseline="central" font-size="8.7" fill="#000" stroke="#000" stroke-width="0.18">15000</text>
<text transform="translate(352.00 108.00)" text-anchor="middle" dominant-baseline="central" font-size="10.2" fill="#000" stroke="#000" stroke-width="0.1" letter-spacing="-0.2">EAS</text>
<clipPath id="clipSAS"><rect x="45.0" y="161.2" width="149.4" height="119.80000000000001"/></clipPath>
<g clip-path="url(#clipSAS)">
<path d="M50.4,276.6 50.5,275.9 50.8,274.7 51.3,273.2 52.0,271.5 53.1,269.6 54.4,267.5 56.0,265.3 58.0,262.9 60.2,260.4 62.8,257.7 65.6,254.9 68.9,252.0 72.4,249.0 76.3,246.0 80.6,242.8 85.2,239.5 90.1,236.1 95.4,232.6 101.1,229.1 107.2,225.4 113.6,221.7 120.4,217.9 127.6,214.1 135.2,210.1 143.2,206.1 151.5,202.0 160.3,197.9 169.4,193.6 179.0,189.4 189.0,185.0 L189.0,215.4 L179.0,218.3 L169.4,221.2 L160.3,224.0 L151.5,226.8 L143.2,229.5 L135.2,232.2 L127.6,234.8 L120.4,237.4 L113.6,239.9 L107.2,242.4 L101.1,244.8 L95.4,247.2 L90.1,249.5 L85.2,251.8 L80.6,254.0 L76.3,256.1 L72.4,258.2 L68.9,260.2 L65.6,262.1 L62.8,264.0 L60.2,265.7 L58.0,267.4 L56.0,269.0 L54.4,270.5 L53.1,271.9 L52.0,273.2 L51.3,274.4 L50.8,275.3 L50.5,276.1 L50.4,276.6 Z" fill="#bcd4e0"/>
<path d="M50.4,276.6 50.5,276.1 50.8,275.3 51.3,274.3 52.0,273.2 53.1,271.9 54.4,270.5 56.0,269.0 58.0,267.4 60.2,265.7 62.8,263.9 65.6,262.0 68.9,260.1 72.4,258.0 76.3,256.0 80.6,253.8 85.2,251.6 90.1,249.3 95.4,247.0 101.1,244.6 107.2,242.1 113.6,239.6 120.4,237.1 127.6,234.5 135.2,231.8 143.2,229.1 151.5,226.4 160.3,223.6 169.4,220.7 179.0,217.8 189.0,214.9 M50.4,276.6 50.5,276.1 50.8,275.3 51.3,274.2 52.0,273.0 53.1,271.7 54.4,270.2 56.0,268.6 58.0,266.9 60.2,265.1 62.8,263.2 65.6,261.3 68.9,259.2 72.4,257.1 76.3,254.9 80.6,252.7 85.2,250.4 90.1,248.0 95.4,245.5 101.1,243.0 107.2,240.4 113.6,237.8 120.4,235.1 127.6,232.4 135.2,229.6 143.2,226.8 151.5,223.9 160.3,220.9 169.4,218.0 179.0,214.9 189.0,211.9 M50.4,276.6 50.5,276.1 50.8,275.2 51.3,274.1 52.0,272.9 53.1,271.4 54.4,269.9 56.0,268.2 58.0,266.4 60.2,264.6 62.8,262.6 65.6,260.6 68.9,258.4 72.4,256.2 76.3,253.9 80.6,251.6 85.2,249.1 90.1,246.6 95.4,244.1 101.1,241.4 107.2,238.7 113.6,236.0 120.4,233.2 127.6,230.3 135.2,227.4 143.2,224.4 151.5,221.4 160.3,218.3 169.4,215.2 179.0,212.0 189.0,208.8 M50.4,276.6 50.5,276.1 50.8,275.2 51.3,274.0 52.0,272.7 53.1,271.2 54.4,269.6 56.0,267.8 58.0,266.0 60.2,264.0 62.8,262.0 65.6,259.8 68.9,257.6 72.4,255.3 76.3,252.9 80.6,250.4 85.2,247.9 90.1,245.3 95.4,242.6 101.1,239.9 107.2,237.0 113.6,234.2 120.4,231.2 127.6,228.2 135.2,225.2 143.2,222.1 151.5,218.9 160.3,215.7 169.4,212.5 179.0,209.1 189.0,205.8 M50.4,276.6 50.5,276.0 50.8,275.1 51.3,273.9 52.0,272.5 53.1,271.0 54.4,269.3 56.0,267.5 58.0,265.5 60.2,263.5 62.8,261.4 65.6,259.1 68.9,256.8 72.4,254.4 76.3,251.9 80.6,249.3 85.2,246.7 90.1,243.9 95.4,241.1 101.1,238.3 107.2,235.3 113.6,232.3 120.4,229.3 127.6,226.2 135.2,223.0 143.2,219.8 151.5,216.5 160.3,213.1 169.4,209.7 179.0,206.2 189.0,202.7 M50.4,276.6 50.5,276.0 50.8,275.0 51.3,273.8 52.0,272.3 53.1,270.7 54.4,269.0 56.0,267.1 58.0,265.1 60.2,263.0 62.8,260.7 65.6,258.4 68.9,256.0 72.4,253.5 76.3,250.9 80.6,248.2 85.2,245.4 90.1,242.6 95.4,239.7 101.1,236.7 107.2,233.6 113.6,230.5 120.4,227.3 127.6,224.1 135.2,220.8 143.2,217.4 151.5,214.0 160.3,210.5 169.4,207.0 179.0,203.3 189.0,199.7 M50.4,276.6 50.5,276.0 50.8,275.0 51.3,273.7 52.0,272.2 53.1,270.5 54.4,268.7 56.0,266.7 58.0,264.6 60.2,262.4 62.8,260.1 65.6,257.7 68.9,255.2 72.4,252.6 76.3,249.9 80.6,247.1 85.2,244.2 90.1,241.2 95.4,238.2 101.1,235.1 107.2,231.9 113.6,228.7 120.4,225.4 127.6,222.0 135.2,218.6 143.2,215.1 151.5,211.5 160.3,207.9 169.4,204.2 179.0,200.5 189.0,196.7 M50.4,276.6 50.5,276.0 50.8,274.9 51.3,273.6 52.0,272.0 53.1,270.3 54.4,268.4 56.0,266.3 58.0,264.2 60.2,261.9 62.8,259.5 65.6,257.0 68.9,254.4 72.4,251.6 76.3,248.8 80.6,245.9 85.2,243.0 90.1,239.9 95.4,236.8 101.1,233.5 107.2,230.3 113.6,226.9 120.4,223.5 127.6,219.9 135.2,216.4 143.2,212.7 151.5,209.0 160.3,205.3 169.4,201.4 179.0,197.6 189.0,193.6 M50.4,276.6 50.5,276.0 50.8,274.8 51.3,273.5 52.0,271.8 53.1,270.0 54.4,268.1 56.0,266.0 58.0,263.7 60.2,261.3 62.8,258.8 65.6,256.2 68.9,253.5 72.4,250.7 76.3,247.8 80.6,244.8 85.2,241.7 90.1,238.6 95.4,235.3 101.1,232.0 107.2,228.6 113.6,225.1 120.4,221.5 127.6,217.9 135.2,214.2 143.2,210.4 151.5,206.6 160.3,202.7 169.4,198.7 179.0,194.7 189.0,190.6 M50.4,276.6 50.5,275.9 50.8,274.8 51.3,273.3 52.0,271.7 53.1,269.8 54.4,267.8 56.0,265.6 58.0,263.3 60.2,260.8 62.8,258.2 65.6,255.5 68.9,252.7 72.4,249.8 76.3,246.8 80.6,243.7 85.2,240.5 90.1,237.2 95.4,233.8 101.1,230.4 107.2,226.9 113.6,223.2 120.4,219.6 127.6,215.8 135.2,212.0 143.2,208.1 151.5,204.1 160.3,200.0 169.4,195.9 179.0,191.8 189.0,187.5" fill="none" stroke="#ffffff" stroke-opacity="0.45" stroke-width="0.8"/>
<path d="M50.4,276.6 50.5,276.1 50.8,275.3 51.3,274.3 52.0,273.1 53.1,271.8 54.4,270.4 56.0,268.8 58.0,267.2 60.2,265.5 62.8,263.7 65.6,261.8 68.9,259.8 72.4,257.7 76.3,255.6 80.6,253.4 85.2,251.2 90.1,248.9 95.4,246.5 101.1,244.1 107.2,241.6 113.6,239.0 120.4,236.4 127.6,233.8 135.2,231.1 143.2,228.3 151.5,225.5 160.3,222.7 169.4,219.8 179.0,216.9 189.0,213.9 M50.4,276.6 50.5,276.1 50.8,275.3 51.3,274.2 52.0,273.0 53.1,271.6 54.4,270.1 56.0,268.5 58.0,266.8 60.2,264.9 62.8,263.0 65.6,261.0 68.9,259.0 72.4,256.8 76.3,254.6 80.6,252.3 85.2,249.9 90.1,247.5 95.4,245.0 101.1,242.5 107.2,239.9 113.6,237.2 120.4,234.5 127.6,231.7 135.2,228.9 143.2,226.0 151.5,223.1 160.3,220.1 169.4,217.0 179.0,214.0 189.0,210.8 M50.4,276.6 50.5,276.1 50.8,275.2 51.3,274.1 52.0,272.8 53.1,271.4 54.4,269.8 56.0,268.1 58.0,266.3 60.2,264.4 62.8,262.4 65.6,260.3 68.9,258.2 72.4,255.9 76.3,253.6 80.6,251.2 85.2,248.7 90.1,246.2 95.4,243.6 101.1,240.9 107.2,238.2 113.6,235.4 120.4,232.5 127.6,229.6 135.2,226.7 143.2,223.7 151.5,220.6 160.3,217.5 169.4,214.3 179.0,211.1 189.0,207.8 M50.4,276.6 50.5,276.1 50.8,275.1 51.3,274.0 52.0,272.6 53.1,271.1 54.4,269.5 56.0,267.7 58.0,265.8 60.2,263.9 62.8,261.8 65.6,259.6 68.9,257.3 72.4,255.0 76.3,252.6 80.6,250.1 85.2,247.5 90.1,244.8 95.4,242.1 101.1,239.3 107.2,236.5 113.6,233.6 120.4,230.6 127.6,227.6 135.2,224.5 143.2,221.3 151.5,218.1 160.3,214.9 169.4,211.5 179.0,208.2 189.0,204.8 M50.4,276.6 50.5,276.0 50.8,275.1 51.3,273.9 52.0,272.5 53.1,270.9 54.4,269.2 56.0,267.3 58.0,265.4 60.2,263.3 62.8,261.1 65.6,258.9 68.9,256.5 72.4,254.1 76.3,251.5 80.6,248.9 85.2,246.2 90.1,243.5 95.4,240.7 101.1,237.8 107.2,234.8 113.6,231.7 120.4,228.6 127.6,225.5 135.2,222.3 143.2,219.0 151.5,215.6 160.3,212.2 169.4,208.8 179.0,205.3 189.0,201.7 M50.4,276.6 50.5,276.0 50.8,275.0 51.3,273.7 52.0,272.3 53.1,270.7 54.4,268.9 56.0,267.0 58.0,264.9 60.2,262.8 62.8,260.5 65.6,258.2 68.9,255.7 72.4,253.2 76.3,250.5 80.6,247.8 85.2,245.0 90.1,242.1 95.4,239.2 101.1,236.2 107.2,233.1 113.6,229.9 120.4,226.7 127.6,223.4 135.2,220.1 143.2,216.6 151.5,213.2 160.3,209.6 169.4,206.0 179.0,202.4 189.0,198.7 M50.4,276.6 50.5,276.0 50.8,274.9 51.3,273.6 52.0,272.1 53.1,270.4 54.4,268.6 56.0,266.6 58.0,264.5 60.2,262.2 62.8,259.9 65.6,257.4 68.9,254.9 72.4,252.2 76.3,249.5 80.6,246.7 85.2,243.8 90.1,240.8 95.4,237.7 101.1,234.6 107.2,231.4 113.6,228.1 120.4,224.7 127.6,221.3 135.2,217.8 143.2,214.3 151.5,210.7 160.3,207.0 169.4,203.3 179.0,199.5 189.0,195.6 M50.4,276.6 50.5,276.0 50.8,274.9 51.3,273.5 52.0,272.0 53.1,270.2 54.4,268.3 56.0,266.2 58.0,264.0 60.2,261.7 62.8,259.3 65.6,256.7 68.9,254.1 72.4,251.3 76.3,248.5 80.6,245.6 85.2,242.6 90.1,239.5 95.4,236.3 101.1,233.0 107.2,229.7 113.6,226.3 120.4,222.8 127.6,219.3 135.2,215.6 143.2,212.0 151.5,208.2 160.3,204.4 169.4,200.5 179.0,196.6 189.0,192.6 M50.4,276.6 50.5,275.9 50.8,274.8 51.3,273.4 52.0,271.8 53.1,270.0 54.4,268.0 56.0,265.8 58.0,263.6 60.2,261.2 62.8,258.6 65.6,256.0 68.9,253.3 72.4,250.4 76.3,247.5 80.6,244.4 85.2,241.3 90.1,238.1 95.4,234.8 101.1,231.4 107.2,228.0 113.6,224.5 120.4,220.9 127.6,217.2 135.2,213.4 143.2,209.6 151.5,205.7 160.3,201.8 169.4,197.8 179.0,193.7 189.0,189.6 M50.4,276.6 50.5,275.9 50.8,274.8 51.3,273.3 52.0,271.6 53.1,269.7 54.4,267.7 56.0,265.5 58.0,263.1 60.2,260.6 62.8,258.0 65.6,255.3 68.9,252.4 72.4,249.5 76.3,246.5 80.6,243.3 85.2,240.1 90.1,236.8 95.4,233.4 101.1,229.9 107.2,226.3 113.6,222.6 120.4,218.9 127.6,215.1 135.2,211.2 143.2,207.3 151.5,203.3 160.3,199.2 169.4,195.0 179.0,190.8 189.0,186.5" fill="none" stroke="#a9c8d8" stroke-opacity="0.5" stroke-width="0.7"/>
<path d="M50.4,276.6 50.5,275.8 50.8,274.4 51.3,272.7 52.0,270.7 53.1,268.4 54.4,266.0 56.0,263.3 58.0,260.5 60.2,257.6 62.8,254.4 65.6,251.2 68.9,247.8 72.4,244.3 76.3,240.7 80.6,236.9 85.2,233.1 90.1,229.1 95.4,225.0 101.1,220.9 107.2,216.6 113.6,212.3 120.4,207.8 127.6,203.3 135.2,198.7 143.2,193.9 151.5,189.2 160.3,184.3 169.4,179.3 179.0,174.3 189.0,169.2 M50.4,276.6 50.5,275.8 50.8,274.5 51.3,272.9 52.0,270.9 53.1,268.8 54.4,266.5 56.0,264.0 58.0,261.3 60.2,258.5 62.8,255.5 65.6,252.4 68.9,249.2 72.4,245.8 76.3,242.4 80.6,238.8 85.2,235.1 90.1,231.4 95.4,227.5 101.1,223.5 107.2,219.5 113.6,215.3 120.4,211.1 127.6,206.8 135.2,202.4 143.2,197.9 151.5,193.3 160.3,188.7 169.4,184.0 179.0,179.2 189.0,174.3 M50.4,276.6 50.5,275.9 50.8,274.7 51.3,273.1 52.0,271.4 53.1,269.4 54.4,267.2 56.0,264.9 58.0,262.5 60.2,259.9 62.8,257.1 65.6,254.3 68.9,251.3 72.4,248.2 76.3,245.0 80.6,241.7 85.2,238.3 90.1,234.9 95.4,231.3 101.1,227.6 107.2,223.9 113.6,220.0 120.4,216.1 127.6,212.2 135.2,208.1 143.2,204.0 151.5,199.7 160.3,195.5 169.4,191.1 179.0,186.7 189.0,182.2 M50.4,276.6 50.5,276.2 50.8,275.4 51.3,274.5 52.0,273.5 53.1,272.3 54.4,271.0 56.0,269.6 58.0,268.1 60.2,266.5 62.8,264.9 65.6,263.2 68.9,261.4 72.4,259.5 76.3,257.6 80.6,255.7 85.2,253.6 90.1,251.5 95.4,249.4 101.1,247.2 107.2,244.9 113.6,242.6 120.4,240.3 127.6,237.9 135.2,235.5 143.2,233.0 151.5,230.4 160.3,227.9 169.4,225.3 179.0,222.6 189.0,219.9 M50.4,276.6 50.5,276.2 50.8,275.5 51.3,274.6 52.0,273.6 53.1,272.5 54.4,271.2 56.0,269.9 58.0,268.5 60.2,267.0 62.8,265.4 65.6,263.7 68.9,262.0 72.4,260.2 76.3,258.4 80.6,256.5 85.2,254.6 90.1,252.5 95.4,250.5 101.1,248.4 107.2,246.2 113.6,244.0 120.4,241.8 127.6,239.5 135.2,237.1 143.2,234.7 151.5,232.3 160.3,229.8 169.4,227.3 179.0,224.8 189.0,222.2 M50.4,276.6 50.5,276.2 50.8,275.5 51.3,274.7 52.0,273.7 53.1,272.7 54.4,271.5 56.0,270.2 58.0,268.9 60.2,267.4 62.8,265.9 65.6,264.4 68.9,262.7 72.4,261.0 76.3,259.3 80.6,257.5 85.2,255.6 90.1,253.7 95.4,251.8 101.1,249.8 107.2,247.7 113.6,245.6 120.4,243.5 127.6,241.3 135.2,239.1 143.2,236.8 151.5,234.5 160.3,232.2 169.4,229.8 179.0,227.4 189.0,224.9 M50.4,276.6 50.5,276.2 50.8,275.6 51.3,274.8 52.0,273.9 53.1,272.9 54.4,271.8 56.0,270.6 58.0,269.3 60.2,267.9 62.8,266.5 65.6,265.0 68.9,263.5 72.4,261.9 76.3,260.2 80.6,258.5 85.2,256.8 90.1,255.0 95.4,253.1 101.1,251.2 107.2,249.3 113.6,247.3 120.4,245.3 127.6,243.2 135.2,241.1 143.2,239.0 151.5,236.8 160.3,234.6 169.4,232.3 179.0,230.0 189.0,227.7" fill="none" stroke="#a0c9de" stroke-opacity="0.9" stroke-width="1.0"/>
<path d="M50.4,276.6 50.5,275.9 50.8,274.6 51.3,273.0 52.0,271.1 53.1,269.1 54.4,266.8 56.0,264.4 58.0,261.8 60.2,259.1 62.8,256.2 65.6,253.2 68.9,250.1 72.4,246.9 76.3,243.5 80.6,240.1 85.2,236.5 90.1,232.9 95.4,229.1 101.1,225.3 107.2,221.4 113.6,217.4 120.4,213.3 127.6,209.1 135.2,204.8 143.2,200.5 151.5,196.1 160.3,191.6 169.4,187.0 179.0,182.4 189.0,177.7" fill="none" stroke="#3333f0" stroke-width="1.05"/>
<path d="M50.4,276.6 50.5,276.1 50.8,275.4 51.3,274.4 52.0,273.3 53.1,272.0 54.4,270.6 56.0,269.2 58.0,267.6 60.2,265.9 62.8,264.2 65.6,262.4 68.9,260.5 72.4,258.5 76.3,256.5 80.6,254.4 85.2,252.2 90.1,250.0 95.4,247.7 101.1,245.4 107.2,243.0 113.6,240.6 120.4,238.1 127.6,235.6 135.2,233.0 143.2,230.3 151.5,227.7 160.3,224.9 169.4,222.2 179.0,219.3 189.0,216.5" fill="none" stroke="#3333f0" stroke-width="1.05"/>
<path d="M50.4,276.6 50.5,276.0 50.8,275.1 51.3,273.9 52.0,272.4 53.1,270.9 54.4,269.2 56.0,267.3 58.0,265.3 60.2,263.3 62.8,261.1 65.6,258.8 68.9,256.5 72.4,254.0 76.3,251.5 80.6,248.8 85.2,246.1 90.1,243.4 95.4,240.5 101.1,237.6 107.2,234.6 113.6,231.6 120.4,228.5 127.6,225.3 135.2,222.1 143.2,218.8 151.5,215.4 160.3,212.0 169.4,208.5 179.0,205.0 189.0,201.5" fill="none" stroke="#000" stroke-width="1.95"/>
<g stroke="#000" stroke-width="0.9"><line x1="47.40" y1="276.60" x2="53.40" y2="276.60"/><line x1="50.40" y1="273.60" x2="50.40" y2="279.60"/><line x1="48.30" y1="274.50" x2="52.50" y2="278.70"/><line x1="48.30" y1="278.70" x2="52.50" y2="274.50"/></g>
<g stroke="#000" stroke-width="0.9"><line x1="47.75" y1="275.10" x2="53.75" y2="275.10"/><line x1="50.75" y1="272.10" x2="50.75" y2="278.10"/><line x1="48.65" y1="273.00" x2="52.85" y2="277.20"/><line x1="48.65" y1="277.20" x2="52.85" y2="273.00"/></g>
<g stroke="#000" stroke-width="0.9"><line x1="54.67" y1="265.63" x2="60.67" y2="265.63"/><line x1="57.67" y1="262.63" x2="57.67" y2="268.63"/><line x1="55.57" y1="263.53" x2="59.77" y2="267.73"/><line x1="55.57" y1="267.73" x2="59.77" y2="263.53"/></g>
<g stroke="#000" stroke-width="0.9"><line x1="64.07" y1="257.75" x2="70.07" y2="257.75"/><line x1="67.07" y1="254.75" x2="67.07" y2="260.75"/><line x1="64.97" y1="255.65" x2="69.17" y2="259.85"/><line x1="64.97" y1="259.85" x2="69.17" y2="255.65"/></g>
<g stroke="#000" stroke-width="0.9"><line x1="73.64" y1="251.25" x2="79.64" y2="251.25"/><line x1="76.64" y1="248.25" x2="76.64" y2="254.25"/><line x1="74.54" y1="249.15" x2="78.74" y2="253.35"/><line x1="74.54" y1="253.35" x2="78.74" y2="249.15"/></g>
<g stroke="#000" stroke-width="0.9"><line x1="90.60" y1="241.50" x2="96.60" y2="241.50"/><line x1="93.60" y1="238.50" x2="93.60" y2="244.50"/><line x1="91.50" y1="239.40" x2="95.70" y2="243.60"/><line x1="91.50" y1="243.60" x2="95.70" y2="239.40"/></g>
<g stroke="#000" stroke-width="0.9"><line x1="116.94" y1="228.69" x2="122.94" y2="228.69"/><line x1="119.94" y1="225.69" x2="119.94" y2="231.69"/><line x1="117.84" y1="226.59" x2="122.04" y2="230.79"/><line x1="117.84" y1="230.79" x2="122.04" y2="226.59"/></g>
<g stroke="#000" stroke-width="0.9"><line x1="126.21" y1="224.62" x2="132.21" y2="224.62"/><line x1="129.21" y1="221.62" x2="129.21" y2="227.62"/><line x1="127.11" y1="222.52" x2="131.31" y2="226.72"/><line x1="127.11" y1="226.72" x2="131.31" y2="222.52"/></g>
<g stroke="#000" stroke-width="0.9"><line x1="133.05" y1="221.71" x2="139.05" y2="221.71"/><line x1="136.05" y1="218.71" x2="136.05" y2="224.71"/><line x1="133.95" y1="219.61" x2="138.15" y2="223.81"/><line x1="133.95" y1="223.81" x2="138.15" y2="219.61"/></g>
<g stroke="#000" stroke-width="0.9"><line x1="140.93" y1="218.46" x2="146.93" y2="218.46"/><line x1="143.93" y1="215.46" x2="143.93" y2="221.46"/><line x1="141.83" y1="216.36" x2="146.03" y2="220.56"/><line x1="141.83" y1="220.56" x2="146.03" y2="216.36"/></g>
<g stroke="#000" stroke-width="0.9"><line x1="179.03" y1="203.93" x2="185.03" y2="203.93"/><line x1="182.03" y1="200.93" x2="182.03" y2="206.93"/><line x1="179.93" y1="201.83" x2="184.13" y2="206.03"/><line x1="179.93" y1="206.03" x2="184.13" y2="201.83"/></g>
<g stroke="#000" stroke-width="0.9"><line x1="182.06" y1="202.84" x2="188.06" y2="202.84"/><line x1="185.06" y1="199.84" x2="185.06" y2="205.84"/><line x1="182.96" y1="200.74" x2="187.16" y2="204.94"/><line x1="182.96" y1="204.94" x2="187.16" y2="200.74"/></g>
</g>
<rect x="45.0" y="161.2" width="149.40" height="119.80" fill="none" stroke="#444" stroke-width="1"/>
<line x1="39.60" y1="276.60" x2="45.00" y2="276.60" stroke="#444" stroke-width="1"/>
<text transform="translate(29.20 276.60) rotate(-90) scale(1 1.07)" text-anchor="middle" dominant-baseline="central" font-size="8.7" fill="#000" stroke="#000" stroke-width="0.18">0</text>
<line x1="39.60" y1="254.40" x2="45.00" y2="254.40" stroke="#444" stroke-width="1"/>
<text transform="translate(29.20 254.40) rotate(-90) scale(1 1.07)" text-anchor="middle" dominant-baseline="central" font-size="8.7" fill="#000" stroke="#000" stroke-width="0.18">20</text>
<line x1="39.60" y1="232.20" x2="45.00" y2="232.20" stroke="#444" stroke-width="1"/>
<text transform="translate(29.20 232.20) rotate(-90) scale(1 1.07)" text-anchor="middle" dominant-baseline="central" font-size="8.7" fill="#000" stroke="#000" stroke-width="0.18">40</text>
<line x1="39.60" y1="210.00" x2="45.00" y2="210.00" stroke="#444" stroke-width="1"/>
<text transform="translate(29.20 210.00) rotate(-90) scale(1 1.07)" text-anchor="middle" dominant-baseline="central" font-size="8.7" fill="#000" stroke="#000" stroke-width="0.18">60</text>
<line x1="39.60" y1="187.80" x2="45.00" y2="187.80" stroke="#444" stroke-width="1"/>
<text transform="translate(29.20 187.80) rotate(-90) scale(1 1.07)" text-anchor="middle" dominant-baseline="central" font-size="8.7" fill="#000" stroke="#000" stroke-width="0.18">80</text>
<line x1="39.60" y1="165.60" x2="45.00" y2="165.60" stroke="#444" stroke-width="1"/>
<text transform="translate(29.20 165.60) rotate(-90) scale(1 1.07)" text-anchor="middle" dominant-baseline="central" font-size="8.7" fill="#000" stroke="#000" stroke-width="0.18">100</text>
<line x1="50.40" y1="281.00" x2="50.40" y2="286.40" stroke="#444" stroke-width="1"/>
<text transform="translate(50.40 297.00) scale(1 1.07)" text-anchor="middle" dominant-baseline="central" font-size="8.7" fill="#000" stroke="#000" stroke-width="0.18">0</text>
<line x1="93.70" y1="281.00" x2="93.70" y2="286.40" stroke="#444" stroke-width="1"/>
<text transform="translate(93.70 297.00) scale(1 1.07)" text-anchor="middle" dominant-baseline="central" font-size="8.7" fill="#000" stroke="#000" stroke-width="0.18">5000</text>
<line x1="137.00" y1="281.00" x2="137.00" y2="286.40" stroke="#444" stroke-width="1"/>
<text transform="translate(137.00 297.00) scale(1 1.07)" text-anchor="middle" dominant-baseline="central" font-size="8.7" fill="#000" stroke="#000" stroke-width="0.18">10000</text>
<line x1="180.30" y1="281.00" x2="180.30" y2="286.40" stroke="#444" stroke-width="1"/>
<text transform="translate(180.30 297.00) scale(1 1.07)" text-anchor="middle" dominant-baseline="central" font-size="8.7" fill="#000" stroke="#000" stroke-width="0.18">15000</text>
<text transform="translate(169.00 263.00)" text-anchor="middle" dominant-baseline="central" font-size="10.2" fill="#000" stroke="#000" stroke-width="0.1" letter-spacing="-0.2">SAS</text>
<clipPath id="clipNFE"><rect x="228.6" y="161.4" width="148.9" height="119.70000000000002"/></clipPath>
<g clip-path="url(#clipNFE)">
<path d="M234.2,276.6 234.3,276.0 234.6,275.0 235.2,273.6 236.1,272.1 237.3,270.3 238.8,268.3 240.7,266.1 242.9,263.8 245.5,261.3 248.4,258.7 251.7,256.0 255.4,253.1 259.5,250.1 263.9,247.0 268.8,243.8 274.1,240.5 279.8,237.1 285.9,233.5 292.4,229.9 299.4,226.2 306.8,222.4 314.6,218.5 322.9,214.5 331.6,210.4 340.7,206.2 350.3,202.0 360.4,197.6 370.9,193.2 381.9,188.7 393.3,184.2 L393.3,218.0 L381.9,220.9 L370.9,223.7 L360.4,226.5 L350.3,229.3 L340.7,232.0 L331.6,234.6 L322.9,237.2 L314.6,239.7 L306.8,242.2 L299.4,244.6 L292.4,247.0 L285.9,249.3 L279.8,251.5 L274.1,253.7 L268.8,255.8 L263.9,257.9 L259.5,259.8 L255.4,261.7 L251.7,263.5 L248.4,265.3 L245.5,266.9 L242.9,268.5 L240.7,270.0 L238.8,271.3 L237.3,272.6 L236.1,273.7 L235.2,274.7 L234.6,275.6 L234.3,276.2 L234.2,276.6 Z" fill="#bcd4e0"/>
<path d="M234.2,276.6 234.3,276.2 234.6,275.6 235.2,274.7 236.1,273.7 237.3,272.5 238.8,271.3 240.7,269.9 242.9,268.4 245.5,266.8 248.4,265.2 251.7,263.4 255.4,261.6 259.5,259.7 263.9,257.7 268.8,255.6 274.1,253.5 279.8,251.3 285.9,249.0 292.4,246.7 299.4,244.3 306.8,241.9 314.6,239.4 322.9,236.8 331.6,234.2 340.7,231.5 350.3,228.8 360.4,226.0 370.9,223.2 381.9,220.3 393.3,217.4 M234.2,276.6 234.3,276.2 234.6,275.5 235.2,274.6 236.1,273.5 237.3,272.3 238.8,271.0 240.7,269.5 242.9,267.9 245.5,266.3 248.4,264.5 251.7,262.7 255.4,260.7 259.5,258.7 263.9,256.6 268.8,254.4 274.1,252.2 279.8,249.8 285.9,247.5 292.4,245.0 299.4,242.5 306.8,239.9 314.6,237.3 322.9,234.6 331.6,231.8 340.7,229.0 350.3,226.1 360.4,223.2 370.9,220.2 381.9,217.1 393.3,214.0 M234.2,276.6 234.3,276.2 234.6,275.5 235.2,274.5 236.1,273.4 237.3,272.1 238.8,270.7 240.7,269.1 242.9,267.5 245.5,265.7 248.4,263.9 251.7,261.9 255.4,259.9 259.5,257.7 263.9,255.5 268.8,253.2 274.1,250.8 279.8,248.4 285.9,245.9 292.4,243.3 299.4,240.6 306.8,237.9 314.6,235.1 322.9,232.3 331.6,229.4 340.7,226.4 350.3,223.4 360.4,220.3 370.9,217.1 381.9,213.9 393.3,210.6 M234.2,276.6 234.3,276.2 234.6,275.4 235.2,274.4 236.1,273.2 237.3,271.8 238.8,270.4 240.7,268.7 242.9,267.0 245.5,265.2 248.4,263.2 251.7,261.1 255.4,259.0 259.5,256.8 263.9,254.4 268.8,252.0 274.1,249.5 279.8,247.0 285.9,244.3 292.4,241.6 299.4,238.8 306.8,235.9 314.6,233.0 322.9,230.0 331.6,226.9 340.7,223.8 350.3,220.6 360.4,217.4 370.9,214.1 381.9,210.7 393.3,207.3 M234.2,276.6 234.3,276.2 234.6,275.3 235.2,274.3 236.1,273.0 237.3,271.6 238.8,270.1 240.7,268.4 242.9,266.5 245.5,264.6 248.4,262.5 251.7,260.4 255.4,258.1 259.5,255.8 263.9,253.3 268.8,250.8 274.1,248.2 279.8,245.5 285.9,242.7 292.4,239.9 299.4,237.0 306.8,234.0 314.6,230.9 322.9,227.7 331.6,224.5 340.7,221.2 350.3,217.9 360.4,214.5 370.9,211.0 381.9,207.5 393.3,203.9 M234.2,276.6 234.3,276.1 234.6,275.3 235.2,274.2 236.1,272.9 237.3,271.4 238.8,269.7 240.7,268.0 242.9,266.1 245.5,264.0 248.4,261.9 251.7,259.6 255.4,257.3 259.5,254.8 263.9,252.3 268.8,249.6 274.1,246.9 279.8,244.1 285.9,241.2 292.4,238.2 299.4,235.1 306.8,232.0 314.6,228.8 322.9,225.5 331.6,222.1 340.7,218.7 350.3,215.2 360.4,211.6 370.9,208.0 381.9,204.3 393.3,200.5 M234.2,276.6 234.3,276.1 234.6,275.2 235.2,274.1 236.1,272.7 237.3,271.2 238.8,269.4 240.7,267.6 242.9,265.6 245.5,263.5 248.4,261.2 251.7,258.9 255.4,256.4 259.5,253.9 263.9,251.2 268.8,248.4 274.1,245.6 279.8,242.6 285.9,239.6 292.4,236.5 299.4,233.3 306.8,230.0 314.6,226.6 322.9,223.2 331.6,219.7 340.7,216.1 350.3,212.4 360.4,208.7 370.9,204.9 381.9,201.0 393.3,197.1 M234.2,276.6 234.3,276.1 234.6,275.2 235.2,274.0 236.1,272.5 237.3,270.9 238.8,269.1 240.7,267.2 242.9,265.1 245.5,262.9 248.4,260.6 251.7,258.1 255.4,255.6 259.5,252.9 263.9,250.1 268.8,247.2 274.1,244.2 279.8,241.2 285.9,238.0 292.4,234.8 299.4,231.4 306.8,228.0 314.6,224.5 322.9,220.9 331.6,217.3 340.7,213.5 350.3,209.7 360.4,205.8 370.9,201.9 381.9,197.8 393.3,193.7 M234.2,276.6 234.3,276.1 234.6,275.1 235.2,273.8 236.1,272.4 237.3,270.7 238.8,268.8 240.7,266.8 242.9,264.7 245.5,262.4 248.4,259.9 251.7,257.4 255.4,254.7 259.5,251.9 263.9,249.0 268.8,246.0 274.1,242.9 279.8,239.7 285.9,236.4 292.4,233.1 299.4,229.6 306.8,226.0 314.6,222.4 322.9,218.6 331.6,214.8 340.7,210.9 350.3,207.0 360.4,202.9 370.9,198.8 381.9,194.6 393.3,190.4 M234.2,276.6 234.3,276.0 234.6,275.0 235.2,273.7 236.1,272.2 237.3,270.5 238.8,268.5 240.7,266.4 242.9,264.2 245.5,261.8 248.4,259.3 251.7,256.6 255.4,253.8 259.5,250.9 263.9,247.9 268.8,244.8 274.1,241.6 279.8,238.3 285.9,234.9 292.4,231.3 299.4,227.7 306.8,224.0 314.6,220.2 322.9,216.4 331.6,212.4 340.7,208.4 350.3,204.2 360.4,200.0 370.9,195.8 381.9,191.4 393.3,187.0" fill="none" stroke="#ffffff" stroke-opacity="0.45" stroke-width="0.8"/>
<path d="M234.2,276.6 234.3,276.2 234.6,275.6 235.2,274.7 236.1,273.6 237.3,272.5 238.8,271.2 240.7,269.8 242.9,268.3 245.5,266.6 248.4,264.9 251.7,263.2 255.4,261.3 259.5,259.3 263.9,257.3 268.8,255.2 274.1,253.0 279.8,250.8 285.9,248.5 292.4,246.1 299.4,243.7 306.8,241.2 314.6,238.7 322.9,236.1 331.6,233.4 340.7,230.7 350.3,227.9 360.4,225.1 370.9,222.2 381.9,219.3 393.3,216.3 M234.2,276.6 234.3,276.2 234.6,275.5 235.2,274.6 236.1,273.5 237.3,272.2 238.8,270.9 240.7,269.4 242.9,267.8 245.5,266.1 248.4,264.3 251.7,262.4 255.4,260.4 259.5,258.4 263.9,256.2 268.8,254.0 274.1,251.7 279.8,249.4 285.9,246.9 292.4,244.4 299.4,241.9 306.8,239.2 314.6,236.5 322.9,233.8 331.6,231.0 340.7,228.1 350.3,225.2 360.4,222.2 370.9,219.1 381.9,216.1 393.3,212.9 M234.2,276.6 234.3,276.2 234.6,275.4 235.2,274.5 236.1,273.3 237.3,272.0 238.8,270.6 240.7,269.0 242.9,267.3 245.5,265.5 248.4,263.6 251.7,261.6 255.4,259.6 259.5,257.4 263.9,255.2 268.8,252.8 274.1,250.4 279.8,247.9 285.9,245.4 292.4,242.7 299.4,240.0 306.8,237.3 314.6,234.4 322.9,231.5 331.6,228.6 340.7,225.5 350.3,222.4 360.4,219.3 370.9,216.1 381.9,212.8 393.3,209.5 M234.2,276.6 234.3,276.2 234.6,275.4 235.2,274.4 236.1,273.1 237.3,271.8 238.8,270.3 240.7,268.6 242.9,266.8 245.5,265.0 248.4,263.0 251.7,260.9 255.4,258.7 259.5,256.4 263.9,254.1 268.8,251.6 274.1,249.1 279.8,246.5 285.9,243.8 292.4,241.0 299.4,238.2 306.8,235.3 314.6,232.3 322.9,229.2 331.6,226.1 340.7,223.0 350.3,219.7 360.4,216.4 370.9,213.0 381.9,209.6 393.3,206.1 M234.2,276.6 234.3,276.1 234.6,275.3 235.2,274.2 236.1,273.0 237.3,271.5 238.8,270.0 240.7,268.2 242.9,266.4 245.5,264.4 248.4,262.3 251.7,260.1 255.4,257.9 259.5,255.5 263.9,253.0 268.8,250.4 274.1,247.8 279.8,245.0 285.9,242.2 292.4,239.3 299.4,236.3 306.8,233.3 314.6,230.2 322.9,227.0 331.6,223.7 340.7,220.4 350.3,217.0 360.4,213.5 370.9,210.0 381.9,206.4 393.3,202.8 M234.2,276.6 234.3,276.1 234.6,275.3 235.2,274.1 236.1,272.8 237.3,271.3 238.8,269.6 240.7,267.8 242.9,265.9 245.5,263.8 248.4,261.7 251.7,259.4 255.4,257.0 259.5,254.5 263.9,251.9 268.8,249.2 274.1,246.4 279.8,243.6 285.9,240.6 292.4,237.6 299.4,234.5 306.8,231.3 314.6,228.0 322.9,224.7 331.6,221.3 340.7,217.8 350.3,214.3 360.4,210.6 370.9,206.9 381.9,203.2 393.3,199.4 M234.2,276.6 234.3,276.1 234.6,275.2 235.2,274.0 236.1,272.6 237.3,271.1 238.8,269.3 240.7,267.5 242.9,265.4 245.5,263.3 248.4,261.0 251.7,258.6 255.4,256.1 259.5,253.5 263.9,250.8 268.8,248.0 274.1,245.1 279.8,242.1 285.9,239.1 292.4,235.9 299.4,232.7 306.8,229.3 314.6,225.9 322.9,222.4 331.6,218.9 340.7,215.2 350.3,211.5 360.4,207.7 370.9,203.9 381.9,200.0 393.3,196.0 M234.2,276.6 234.3,276.1 234.6,275.1 235.2,273.9 236.1,272.5 237.3,270.8 238.8,269.0 240.7,267.1 242.9,265.0 245.5,262.7 248.4,260.4 251.7,257.9 255.4,255.3 259.5,252.6 263.9,249.7 268.8,246.8 274.1,243.8 279.8,240.7 285.9,237.5 292.4,234.2 299.4,230.8 306.8,227.3 314.6,223.8 322.9,220.2 331.6,216.4 340.7,212.7 350.3,208.8 360.4,204.9 370.9,200.8 381.9,196.8 393.3,192.6 M234.2,276.6 234.3,276.1 234.6,275.1 235.2,273.8 236.1,272.3 237.3,270.6 238.8,268.7 240.7,266.7 242.9,264.5 245.5,262.2 248.4,259.7 251.7,257.1 255.4,254.4 259.5,251.6 263.9,248.7 268.8,245.6 274.1,242.5 279.8,239.2 285.9,235.9 292.4,232.5 299.4,229.0 306.8,225.4 314.6,221.7 322.9,217.9 331.6,214.0 340.7,210.1 350.3,206.1 360.4,202.0 370.9,197.8 381.9,193.5 393.3,189.2 M234.2,276.6 234.3,276.0 234.6,275.0 235.2,273.7 236.1,272.1 237.3,270.4 238.8,268.4 240.7,266.3 242.9,264.0 245.5,261.6 248.4,259.1 251.7,256.4 255.4,253.6 259.5,250.6 263.9,247.6 268.8,244.4 274.1,241.2 279.8,237.8 285.9,234.3 292.4,230.8 299.4,227.1 306.8,223.4 314.6,219.5 322.9,215.6 331.6,211.6 340.7,207.5 350.3,203.3 360.4,199.1 370.9,194.7 381.9,190.3 393.3,185.8" fill="none" stroke="#a9c8d8" stroke-opacity="0.5" stroke-width="0.7"/>
<path d="M234.2,276.6 234.3,276.0 234.6,274.9 235.2,273.4 236.1,271.7 237.3,269.8 238.8,267.6 240.7,265.3 242.9,262.8 245.5,260.2 248.4,257.4 251.7,254.4 255.4,251.4 259.5,248.1 263.9,244.8 268.8,241.4 274.1,237.8 279.8,234.1 285.9,230.3 292.4,226.4 299.4,222.4 306.8,218.3 314.6,214.1 322.9,209.8 331.6,205.4 340.7,200.9 350.3,196.3 360.4,191.7 370.9,186.9 381.9,182.1 393.3,177.2 M234.2,276.6 234.3,276.0 234.6,274.9 235.2,273.5 236.1,271.8 237.3,269.9 238.8,267.8 240.7,265.6 242.9,263.1 245.5,260.5 248.4,257.8 251.7,254.9 255.4,251.9 259.5,248.8 263.9,245.5 268.8,242.1 274.1,238.6 279.8,235.0 285.9,231.3 292.4,227.5 299.4,223.6 306.8,219.5 314.6,215.4 322.9,211.2 331.6,206.9 340.7,202.5 350.3,198.1 360.4,193.5 370.9,188.9 381.9,184.1 393.3,179.3 M234.2,276.6 234.3,276.3 234.6,275.7 235.2,274.9 236.1,273.9 237.3,272.9 238.8,271.7 240.7,270.4 242.9,269.1 245.5,267.6 248.4,266.1 251.7,264.5 255.4,262.8 259.5,261.1 263.9,259.2 268.8,257.3 274.1,255.4 279.8,253.4 285.9,251.3 292.4,249.2 299.4,247.0 306.8,244.7 314.6,242.4 322.9,240.1 331.6,237.7 340.7,235.2 350.3,232.7 360.4,230.2 370.9,227.6 381.9,225.0 393.3,222.3 M234.2,276.6 234.3,276.3 234.6,275.7 235.2,275.0 236.1,274.1 237.3,273.1 238.8,272.0 240.7,270.8 242.9,269.5 245.5,268.2 248.4,266.7 251.7,265.2 255.4,263.6 259.5,262.0 263.9,260.3 268.8,258.5 274.1,256.6 279.8,254.7 285.9,252.8 292.4,250.8 299.4,248.7 306.8,246.6 314.6,244.5 322.9,242.3 331.6,240.0 340.7,237.7 350.3,235.3 360.4,232.9 370.9,230.5 381.9,228.0 393.3,225.5 M234.2,276.6 234.3,276.3 234.6,275.8 235.2,275.1 236.1,274.3 237.3,273.4 238.8,272.4 240.7,271.3 242.9,270.1 245.5,268.9 248.4,267.6 251.7,266.2 255.4,264.7 259.5,263.2 263.9,261.6 268.8,260.0 274.1,258.3 279.8,256.6 285.9,254.8 292.4,253.0 299.4,251.1 306.8,249.1 314.6,247.2 322.9,245.1 331.6,243.1 340.7,241.0 350.3,238.8 360.4,236.6 370.9,234.4 381.9,232.1 393.3,229.8" fill="none" stroke="#a0c9de" stroke-opacity="0.9" stroke-width="1.0"/>
<path d="M234.2,276.6 234.3,276.0 234.6,274.9 235.2,273.6 236.1,271.9 237.3,270.1 238.8,268.0 240.7,265.8 242.9,263.4 245.5,260.9 248.4,258.2 251.7,255.4 255.4,252.5 259.5,249.4 263.9,246.2 268.8,242.9 274.1,239.5 279.8,236.0 285.9,232.3 292.4,228.6 299.4,224.8 306.8,220.9 314.6,216.8 322.9,212.7 331.6,208.5 340.7,204.3 350.3,199.9 360.4,195.4 370.9,190.9 381.9,186.3 393.3,181.6" fill="none" stroke="#3333f0" stroke-width="1.05"/>
<path d="M234.2,276.6 234.3,276.2 234.6,275.6 235.2,274.8 236.1,273.8 237.3,272.7 238.8,271.4 240.7,270.1 242.9,268.7 245.5,267.1 248.4,265.5 251.7,263.8 255.4,262.0 259.5,260.2 263.9,258.3 268.8,256.3 274.1,254.2 279.8,252.1 285.9,249.9 292.4,247.6 299.4,245.3 306.8,243.0 314.6,240.5 322.9,238.0 331.6,235.5 340.7,232.9 350.3,230.3 360.4,227.6 370.9,224.9 381.9,222.1 393.3,219.2" fill="none" stroke="#3333f0" stroke-width="1.05"/>
<path d="M234.2,276.6 234.3,276.1 234.6,275.3 235.2,274.3 236.1,273.0 237.3,271.6 238.8,270.0 240.7,268.3 242.9,266.4 245.5,264.5 248.4,262.4 251.7,260.2 255.4,257.9 259.5,255.5 263.9,253.1 268.8,250.5 274.1,247.9 279.8,245.2 285.9,242.3 292.4,239.5 299.4,236.5 306.8,233.5 314.6,230.4 322.9,227.2 331.6,223.9 340.7,220.6 350.3,217.2 360.4,213.8 370.9,210.3 381.9,206.7 393.3,203.0" fill="none" stroke="#000" stroke-width="1.95"/>
<g stroke="#000" stroke-width="0.9"><line x1="231.20" y1="276.60" x2="237.20" y2="276.60"/><line x1="234.20" y1="273.60" x2="234.20" y2="279.60"/><line x1="232.10" y1="274.50" x2="236.30" y2="278.70"/><line x1="232.10" y1="278.70" x2="236.30" y2="274.50"/></g>
<g stroke="#000" stroke-width="0.9"><line x1="231.54" y1="275.47" x2="237.54" y2="275.47"/><line x1="234.54" y1="272.47" x2="234.54" y2="278.47"/><line x1="232.44" y1="273.37" x2="236.64" y2="277.57"/><line x1="232.44" y1="277.57" x2="236.64" y2="273.37"/></g>
<g stroke="#000" stroke-width="0.9"><line x1="240.80" y1="269.27" x2="246.80" y2="269.27"/><line x1="243.80" y1="266.27" x2="243.80" y2="272.27"/><line x1="241.70" y1="267.17" x2="245.90" y2="271.37"/><line x1="241.70" y1="271.37" x2="245.90" y2="267.17"/></g>
<g stroke="#000" stroke-width="0.9"><line x1="248.60" y1="263.06" x2="254.60" y2="263.06"/><line x1="251.60" y1="260.06" x2="251.60" y2="266.06"/><line x1="249.50" y1="260.96" x2="253.70" y2="265.16"/><line x1="249.50" y1="265.16" x2="253.70" y2="260.96"/></g>
<g stroke="#000" stroke-width="0.9"><line x1="257.50" y1="256.62" x2="263.50" y2="256.62"/><line x1="260.50" y1="253.62" x2="260.50" y2="259.62"/><line x1="258.40" y1="254.52" x2="262.60" y2="258.72"/><line x1="258.40" y1="258.72" x2="262.60" y2="254.52"/></g>
<g stroke="#000" stroke-width="0.9"><line x1="274.20" y1="246.38" x2="280.20" y2="246.38"/><line x1="277.20" y1="243.38" x2="277.20" y2="249.38"/><line x1="275.10" y1="244.28" x2="279.30" y2="248.48"/><line x1="275.10" y1="248.48" x2="279.30" y2="244.28"/></g>
<g stroke="#000" stroke-width="0.9"><line x1="300.80" y1="234.68" x2="306.80" y2="234.68"/><line x1="303.80" y1="231.68" x2="303.80" y2="237.68"/><line x1="301.70" y1="232.58" x2="305.90" y2="236.78"/><line x1="301.70" y1="236.78" x2="305.90" y2="232.58"/></g>
<g stroke="#000" stroke-width="0.9"><line x1="310.40" y1="230.83" x2="316.40" y2="230.83"/><line x1="313.40" y1="227.83" x2="313.40" y2="233.83"/><line x1="311.30" y1="228.73" x2="315.50" y2="232.93"/><line x1="311.30" y1="232.93" x2="315.50" y2="228.73"/></g>
<g stroke="#000" stroke-width="0.9"><line x1="317.20" y1="228.19" x2="323.20" y2="228.19"/><line x1="320.20" y1="225.19" x2="320.20" y2="231.19"/><line x1="318.10" y1="226.09" x2="322.30" y2="230.29"/><line x1="318.10" y1="230.29" x2="322.30" y2="226.09"/></g>
<g stroke="#000" stroke-width="0.9"><line x1="324.70" y1="225.36" x2="330.70" y2="225.36"/><line x1="327.70" y1="222.36" x2="327.70" y2="228.36"/><line x1="325.60" y1="223.26" x2="329.80" y2="227.46"/><line x1="325.60" y1="227.46" x2="329.80" y2="223.26"/></g>
<g stroke="#000" stroke-width="0.9"><line x1="361.30" y1="212.45" x2="367.30" y2="212.45"/><line x1="364.30" y1="209.45" x2="364.30" y2="215.45"/><line x1="362.20" y1="210.35" x2="366.40" y2="214.55"/><line x1="362.20" y1="214.55" x2="366.40" y2="210.35"/></g>
</g>
<rect x="228.6" y="161.4" width="148.90" height="119.70" fill="none" stroke="#444" stroke-width="1"/>
<line x1="223.20" y1="276.60" x2="228.60" y2="276.60" stroke="#444" stroke-width="1"/>
<text transform="translate(212.80 276.60) rotate(-90) scale(1 1.07)" text-anchor="middle" dominant-baseline="central" font-size="8.7" fill="#000" stroke="#000" stroke-width="0.18">0</text>
<line x1="223.20" y1="254.40" x2="228.60" y2="254.40" stroke="#444" stroke-width="1"/>
<text transform="translate(212.80 254.40) rotate(-90) scale(1 1.07)" text-anchor="middle" dominant-baseline="central" font-size="8.7" fill="#000" stroke="#000" stroke-width="0.18">20</text>
<line x1="223.20" y1="232.20" x2="228.60" y2="232.20" stroke="#444" stroke-width="1"/>
<text transform="translate(212.80 232.20) rotate(-90) scale(1 1.07)" text-anchor="middle" dominant-baseline="central" font-size="8.7" fill="#000" stroke="#000" stroke-width="0.18">40</text>
<line x1="223.20" y1="210.00" x2="228.60" y2="210.00" stroke="#444" stroke-width="1"/>
<text transform="translate(212.80 210.00) rotate(-90) scale(1 1.07)" text-anchor="middle" dominant-baseline="central" font-size="8.7" fill="#000" stroke="#000" stroke-width="0.18">60</text>
<line x1="223.20" y1="187.80" x2="228.60" y2="187.80" stroke="#444" stroke-width="1"/>
<text transform="translate(212.80 187.80) rotate(-90) scale(1 1.07)" text-anchor="middle" dominant-baseline="central" font-size="8.7" fill="#000" stroke="#000" stroke-width="0.18">80</text>
<line x1="223.20" y1="165.60" x2="228.60" y2="165.60" stroke="#444" stroke-width="1"/>
<text transform="translate(212.80 165.60) rotate(-90) scale(1 1.07)" text-anchor="middle" dominant-baseline="central" font-size="8.7" fill="#000" stroke="#000" stroke-width="0.18">100</text>
<line x1="234.20" y1="281.10" x2="234.20" y2="286.50" stroke="#444" stroke-width="1"/>
<text transform="translate(234.20 297.10) scale(1 1.07)" text-anchor="middle" dominant-baseline="central" font-size="8.7" fill="#000" stroke="#000" stroke-width="0.18">0</text>
<line x1="277.20" y1="281.10" x2="277.20" y2="286.50" stroke="#444" stroke-width="1"/>
<text transform="translate(277.20 297.10) scale(1 1.07)" text-anchor="middle" dominant-baseline="central" font-size="8.7" fill="#000" stroke="#000" stroke-width="0.18">5000</text>
<line x1="320.20" y1="281.10" x2="320.20" y2="286.50" stroke="#444" stroke-width="1"/>
<text transform="translate(320.20 297.10) scale(1 1.07)" text-anchor="middle" dominant-baseline="central" font-size="8.7" fill="#000" stroke="#000" stroke-width="0.18">10000</text>
<line x1="363.20" y1="281.10" x2="363.20" y2="286.50" stroke="#444" stroke-width="1"/>
<text transform="translate(363.20 297.10) scale(1 1.07)" text-anchor="middle" dominant-baseline="central" font-size="8.7" fill="#000" stroke="#000" stroke-width="0.18">15000</text>
<text transform="translate(353.00 264.00)" text-anchor="middle" dominant-baseline="central" font-size="10.2" fill="#000" stroke="#000" stroke-width="0.1" letter-spacing="-0.2">NFE</text>
<text transform="translate(8.60 65.40) rotate(-90) scale(1 1.07)" text-anchor="middle" dominant-baseline="central" font-size="8.75" fill="#000" stroke="#000" stroke-width="0.18">Variants Per Kb</text>
<text transform="translate(8.60 220.20) rotate(-90) scale(1 1.07)" text-anchor="middle" dominant-baseline="central" font-size="8.75" fill="#000" stroke="#000" stroke-width="0.18">Variants Per Kb</text>
<text transform="translate(119.50 317.60) scale(1 1.07)" text-anchor="middle" dominant-baseline="central" font-size="8.75" fill="#000" stroke="#000" stroke-width="0.18">Sample Size</text>
<text transform="translate(303.00 317.60) scale(1 1.07)" text-anchor="middle" dominant-baseline="central" font-size="8.75" fill="#000" stroke="#000" stroke-width="0.18">Sample Size</text>
<rect x="45.4" y="5.4" width="108.3" height="41.8" fill="#fff" stroke="#444" stroke-width="1"/>
<line x1="52.5" y1="13.40" x2="52.5" y2="19.00" stroke="#333" stroke-width="1.1"/>
<text transform="translate(60.80 16.20) scale(1 1.07)" text-anchor="start" dominant-baseline="central" font-size="8.75" fill="#000" stroke="#000" stroke-width="0.18">Median</text>
<line x1="52.5" y1="23.90" x2="52.5" y2="29.50" stroke="#bcdff0" stroke-width="1.1"/>
<text transform="translate(60.80 26.70) scale(1 1.07)" text-anchor="start" dominant-baseline="central" font-size="8.75" fill="#000" stroke="#000" stroke-width="0.18">Blocks</text>
<line x1="52.5" y1="34.40" x2="52.5" y2="40.00" stroke="#3030f0" stroke-width="1.1"/>
<text transform="translate(60.80 37.20) scale(1 1.07)" text-anchor="start" dominant-baseline="central" font-size="8.75" fill="#000" stroke="#000" stroke-width="0.18">5th and 95th percentile</text>
<rect x="310.8" y="5.4" width="65.8" height="31.7" fill="#fff" stroke="#444" stroke-width="1"/>
<circle cx="318.7" cy="16.3" r="0.9" fill="#000"/>
<line x1="318.7" y1="24.2" x2="318.7" y2="29.8" stroke="#333" stroke-width="1.1"/>
<text transform="translate(327.00 16.30) scale(1 1.07)" text-anchor="start" dominant-baseline="central" font-size="8.6" fill="#000" stroke="#000" stroke-width="0.18">Target Data</text>
<text transform="translate(327.00 26.80) scale(1 1.07)" text-anchor="start" dominant-baseline="central" font-size="8.6" fill="#000" stroke="#000" stroke-width="0.18">Function</text>
<text transform="translate(0.9 12.6) scale(1 1.06)" font-size="14.8" font-weight="bold" stroke="#000" stroke-width="0.35">A</text>
<text transform="translate(394.3 12.8) scale(1 1.06)" font-size="14.8" font-weight="bold" stroke="#000" stroke-width="0.35">B</text>
<rect x="438.9" y="31.9" width="238.90" height="214.60" fill="#ebebeb"/>
<line x1="438.9" x2="677.8" y1="219.68" y2="219.68" stroke="#fff" stroke-width="0.55"/>
<line x1="438.9" x2="677.8" y1="166.02" y2="166.02" stroke="#fff" stroke-width="0.55"/>
<line x1="438.9" x2="677.8" y1="112.37" y2="112.37" stroke="#fff" stroke-width="0.55"/>
<line x1="438.9" x2="677.8" y1="58.72" y2="58.72" stroke="#fff" stroke-width="0.55"/>
<line x1="438.9" x2="677.8" y1="246.50" y2="246.50" stroke="#fff" stroke-width="1.1"/>
<line x1="438.9" x2="677.8" y1="192.85" y2="192.85" stroke="#fff" stroke-width="1.1"/>
<line x1="438.9" x2="677.8" y1="139.20" y2="139.20" stroke="#fff" stroke-width="1.1"/>
<line x1="438.9" x2="677.8" y1="85.55" y2="85.55" stroke="#fff" stroke-width="1.1"/>
<line x1="438.9" x2="677.8" y1="31.90" y2="31.90" stroke="#fff" stroke-width="1.1"/>
<line x1="458.80" x2="458.80" y1="31.9" y2="246.5" stroke="#fff" stroke-width="1.1"/>
<line x1="491.95" x2="491.95" y1="31.9" y2="246.5" stroke="#fff" stroke-width="1.1"/>
<line x1="525.10" x2="525.10" y1="31.9" y2="246.5" stroke="#fff" stroke-width="1.1"/>
<line x1="558.25" x2="558.25" y1="31.9" y2="246.5" stroke="#fff" stroke-width="1.1"/>
<line x1="591.40" x2="591.40" y1="31.9" y2="246.5" stroke="#fff" stroke-width="1.1"/>
<line x1="624.55" x2="624.55" y1="31.9" y2="246.5" stroke="#fff" stroke-width="1.1"/>
<line x1="657.70" x2="657.70" y1="31.9" y2="246.5" stroke="#fff" stroke-width="1.1"/>
<line x1="438.9" x2="677.8" y1="139.2" y2="139.2" stroke="#000" stroke-width="1.5"/>
<line x1="449.47" x2="449.47" y1="137.8" y2="140" stroke="#d9504f" stroke-width="1.1"/>
<line x1="449.47" x2="449.47" y1="143.7" y2="145.2" stroke="#d9504f" stroke-width="1.1"/>
<rect x="446.77" y="140" width="5.4" height="3.70" fill="#d9504f" stroke="#d9504f" stroke-width="1.1"/>
<line x1="446.77" x2="452.17" y1="141.8" y2="141.8" stroke="#d9504f" stroke-width="1.3"/>
<circle cx="449.47" cy="131" r="2.1" fill="#d9504f"/>
<circle cx="449.47" cy="135.5" r="2.1" fill="#d9504f"/>
<circle cx="449.47" cy="147" r="2.1" fill="#d9504f"/>
<circle cx="449.47" cy="150.5" r="2.1" fill="#d9504f"/>
<line x1="455.69" x2="455.69" y1="135" y2="137.3" stroke="#6e9e12" stroke-width="1.1"/>
<line x1="455.69" x2="455.69" y1="140.5" y2="142" stroke="#6e9e12" stroke-width="1.1"/>
<rect x="452.99" y="137.3" width="5.4" height="3.20" fill="#6e9e12" stroke="#6e9e12" stroke-width="1.1"/>
<line x1="452.99" x2="458.39" y1="139" y2="139" stroke="#6e9e12" stroke-width="1.3"/>
<circle cx="455.69" cy="129" r="2.1" fill="#6e9e12"/>
<circle cx="455.69" cy="132" r="2.1" fill="#6e9e12"/>
<circle cx="455.69" cy="144.5" r="2.1" fill="#6e9e12"/>
<circle cx="455.69" cy="147" r="2.1" fill="#6e9e12"/>
<circle cx="455.69" cy="152" r="2.1" fill="#6e9e12"/>
<line x1="461.91" x2="461.91" y1="136.5" y2="138.3" stroke="#3ea8b6" stroke-width="1.1"/>
<line x1="461.91" x2="461.91" y1="140.5" y2="143.7" stroke="#3ea8b6" stroke-width="1.1"/>
<rect x="459.21" y="138.3" width="5.4" height="2.20" fill="#3ea8b6" stroke="#3ea8b6" stroke-width="1.1"/>
<line x1="459.21" x2="464.61" y1="139.4" y2="139.4" stroke="#3ea8b6" stroke-width="1.3"/>
<circle cx="461.91" cy="131.5" r="2.1" fill="#3ea8b6"/>
<circle cx="461.91" cy="134.5" r="2.1" fill="#3ea8b6"/>
<circle cx="461.91" cy="146.2" r="2.1" fill="#3ea8b6"/>
<line x1="468.13" x2="468.13" y1="136.5" y2="138.6" stroke="#9d4df6" stroke-width="1.1"/>
<line x1="468.13" x2="468.13" y1="141.5" y2="143" stroke="#9d4df6" stroke-width="1.1"/>
<rect x="465.43" y="138.6" width="5.4" height="2.90" fill="#9d4df6" stroke="#9d4df6" stroke-width="1.1"/>
<line x1="465.43" x2="470.83" y1="140" y2="140" stroke="#9d4df6" stroke-width="1.3"/>
<circle cx="468.13" cy="131" r="2.1" fill="#9d4df6"/>
<circle cx="468.13" cy="134.5" r="2.1" fill="#9d4df6"/>
<circle cx="468.13" cy="144.5" r="2.1" fill="#9d4df6"/>
<circle cx="468.13" cy="146.5" r="2.1" fill="#9d4df6"/>
<line x1="482.62" x2="482.62" y1="89.6" y2="112.5" stroke="#d9504f" stroke-width="1.1"/>
<line x1="482.62" x2="482.62" y1="128.8" y2="152.3" stroke="#d9504f" stroke-width="1.1"/>
<rect x="479.92" y="112.5" width="5.4" height="16.30" fill="#fff" stroke="#d9504f" stroke-width="1.1"/>
<line x1="479.92" x2="485.32" y1="120.8" y2="120.8" stroke="#d9504f" stroke-width="1.3"/>
<circle cx="482.62" cy="73.1" r="2.1" fill="#d9504f"/>
<circle cx="482.62" cy="83.4" r="2.1" fill="#d9504f"/>
<circle cx="482.62" cy="85" r="2.1" fill="#d9504f"/>
<circle cx="482.62" cy="154.2" r="2.1" fill="#d9504f"/>
<circle cx="482.62" cy="185.5" r="2.1" fill="#d9504f"/>
<line x1="488.84" x2="488.84" y1="108" y2="133.4" stroke="#6e9e12" stroke-width="1.1"/>
<line x1="488.84" x2="488.84" y1="151.5" y2="172" stroke="#6e9e12" stroke-width="1.1"/>
<rect x="486.14" y="133.4" width="5.4" height="18.10" fill="#fff" stroke="#6e9e12" stroke-width="1.1"/>
<line x1="486.14" x2="491.54" y1="140.5" y2="140.5" stroke="#6e9e12" stroke-width="1.3"/>
<circle cx="488.84" cy="64.9" r="2.1" fill="#6e9e12"/>
<circle cx="488.84" cy="93.3" r="2.1" fill="#6e9e12"/>
<circle cx="488.84" cy="181.2" r="2.1" fill="#6e9e12"/>
<circle cx="488.84" cy="191.6" r="2.1" fill="#6e9e12"/>
<line x1="495.06" x2="495.06" y1="116" y2="134.3" stroke="#3ea8b6" stroke-width="1.1"/>
<line x1="495.06" x2="495.06" y1="146.5" y2="157" stroke="#3ea8b6" stroke-width="1.1"/>
<rect x="492.36" y="134.3" width="5.4" height="12.20" fill="#fff" stroke="#3ea8b6" stroke-width="1.1"/>
<line x1="492.36" x2="497.76" y1="139.7" y2="139.7" stroke="#3ea8b6" stroke-width="1.3"/>
<circle cx="495.06" cy="104.8" r="2.1" fill="#3ea8b6"/>
<circle cx="495.06" cy="167.7" r="2.1" fill="#3ea8b6"/>
<line x1="501.28" x2="501.28" y1="101.9" y2="124.6" stroke="#9d4df6" stroke-width="1.1"/>
<line x1="501.28" x2="501.28" y1="145" y2="163.8" stroke="#9d4df6" stroke-width="1.1"/>
<rect x="498.58" y="124.6" width="5.4" height="20.40" fill="#fff" stroke="#9d4df6" stroke-width="1.1"/>
<line x1="498.58" x2="503.98" y1="135.4" y2="135.4" stroke="#9d4df6" stroke-width="1.3"/>
<circle cx="501.28" cy="185" r="2.1" fill="#9d4df6"/>
<line x1="515.77" x2="515.77" y1="112.7" y2="140.8" stroke="#d9504f" stroke-width="1.1"/>
<line x1="515.77" x2="515.77" y1="161.6" y2="189.6" stroke="#d9504f" stroke-width="1.1"/>
<rect x="513.07" y="140.8" width="5.4" height="20.80" fill="#fff" stroke="#d9504f" stroke-width="1.1"/>
<line x1="513.07" x2="518.47" y1="152.2" y2="152.2" stroke="#d9504f" stroke-width="1.3"/>
<circle cx="515.77" cy="76.8" r="2.1" fill="#d9504f"/>
<circle cx="515.77" cy="109.3" r="2.1" fill="#d9504f"/>
<circle cx="515.77" cy="196.1" r="2.1" fill="#d9504f"/>
<circle cx="515.77" cy="203.1" r="2.1" fill="#d9504f"/>
<circle cx="515.77" cy="209.7" r="2.1" fill="#d9504f"/>
<circle cx="515.77" cy="215.1" r="2.1" fill="#d9504f"/>
<line x1="521.99" x2="521.99" y1="102.7" y2="129.6" stroke="#6e9e12" stroke-width="1.1"/>
<line x1="521.99" x2="521.99" y1="148.4" y2="172.4" stroke="#6e9e12" stroke-width="1.1"/>
<rect x="519.29" y="129.6" width="5.4" height="18.80" fill="#fff" stroke="#6e9e12" stroke-width="1.1"/>
<line x1="519.29" x2="524.69" y1="139.6" y2="139.6" stroke="#6e9e12" stroke-width="1.3"/>
<circle cx="521.99" cy="71" r="2.1" fill="#6e9e12"/>
<circle cx="521.99" cy="88.8" r="2.1" fill="#6e9e12"/>
<circle cx="521.99" cy="96.5" r="2.1" fill="#6e9e12"/>
<circle cx="521.99" cy="98" r="2.1" fill="#6e9e12"/>
<circle cx="521.99" cy="99.6" r="2.1" fill="#6e9e12"/>
<circle cx="521.99" cy="182.6" r="2.1" fill="#6e9e12"/>
<circle cx="521.99" cy="184" r="2.1" fill="#6e9e12"/>
<circle cx="521.99" cy="219.1" r="2.1" fill="#6e9e12"/>
<line x1="528.21" x2="528.21" y1="108.8" y2="128.4" stroke="#3ea8b6" stroke-width="1.1"/>
<line x1="528.21" x2="528.21" y1="141.9" y2="156.5" stroke="#3ea8b6" stroke-width="1.1"/>
<rect x="525.51" y="128.4" width="5.4" height="13.50" fill="#fff" stroke="#3ea8b6" stroke-width="1.1"/>
<line x1="525.51" x2="530.91" y1="136.2" y2="136.2" stroke="#3ea8b6" stroke-width="1.3"/>
<circle cx="528.21" cy="93.9" r="2.1" fill="#3ea8b6"/>
<circle cx="528.21" cy="104.7" r="2.1" fill="#3ea8b6"/>
<line x1="534.43" x2="534.43" y1="108.8" y2="135.5" stroke="#9d4df6" stroke-width="1.1"/>
<line x1="534.43" x2="534.43" y1="153.2" y2="174.6" stroke="#9d4df6" stroke-width="1.1"/>
<rect x="531.73" y="135.5" width="5.4" height="17.70" fill="#fff" stroke="#9d4df6" stroke-width="1.1"/>
<line x1="531.73" x2="537.13" y1="143.9" y2="143.9" stroke="#9d4df6" stroke-width="1.3"/>
<circle cx="534.43" cy="71.6" r="2.1" fill="#9d4df6"/>
<circle cx="534.43" cy="96.1" r="2.1" fill="#9d4df6"/>
<circle cx="534.43" cy="182.2" r="2.1" fill="#9d4df6"/>
<line x1="548.92" x2="548.92" y1="121.6" y2="144.2" stroke="#d9504f" stroke-width="1.1"/>
<line x1="548.92" x2="548.92" y1="159.2" y2="175.5" stroke="#d9504f" stroke-width="1.1"/>
<rect x="546.22" y="144.2" width="5.4" height="15.00" fill="#fff" stroke="#d9504f" stroke-width="1.1"/>
<line x1="546.22" x2="551.62" y1="151.5" y2="151.5" stroke="#d9504f" stroke-width="1.3"/>
<circle cx="548.92" cy="112.7" r="2.1" fill="#d9504f"/>
<circle cx="548.92" cy="116.5" r="2.1" fill="#d9504f"/>
<circle cx="548.92" cy="182.2" r="2.1" fill="#d9504f"/>
<circle cx="548.92" cy="188.7" r="2.1" fill="#d9504f"/>
<circle cx="548.92" cy="196.8" r="2.1" fill="#d9504f"/>
<line x1="555.14" x2="555.14" y1="104.2" y2="129.6" stroke="#6e9e12" stroke-width="1.1"/>
<line x1="555.14" x2="555.14" y1="147" y2="167.2" stroke="#6e9e12" stroke-width="1.1"/>
<rect x="552.44" y="129.6" width="5.4" height="17.40" fill="#fff" stroke="#6e9e12" stroke-width="1.1"/>
<line x1="552.44" x2="557.84" y1="137.6" y2="137.6" stroke="#6e9e12" stroke-width="1.3"/>
<circle cx="555.14" cy="98.5" r="2.1" fill="#6e9e12"/>
<circle cx="555.14" cy="102.2" r="2.1" fill="#6e9e12"/>
<circle cx="555.14" cy="175.5" r="2.1" fill="#6e9e12"/>
<line x1="561.36" x2="561.36" y1="127.8" y2="140.4" stroke="#3ea8b6" stroke-width="1.1"/>
<line x1="561.36" x2="561.36" y1="148.4" y2="160" stroke="#3ea8b6" stroke-width="1.1"/>
<rect x="558.66" y="140.4" width="5.4" height="8.00" fill="#fff" stroke="#3ea8b6" stroke-width="1.1"/>
<line x1="558.66" x2="564.06" y1="144.2" y2="144.2" stroke="#3ea8b6" stroke-width="1.3"/>
<circle cx="561.36" cy="114.5" r="2.1" fill="#3ea8b6"/>
<circle cx="561.36" cy="162.4" r="2.1" fill="#3ea8b6"/>
<circle cx="561.36" cy="174.6" r="2.1" fill="#3ea8b6"/>
<line x1="567.58" x2="567.58" y1="115" y2="132.4" stroke="#9d4df6" stroke-width="1.1"/>
<line x1="567.58" x2="567.58" y1="148" y2="169.6" stroke="#9d4df6" stroke-width="1.1"/>
<rect x="564.88" y="132.4" width="5.4" height="15.60" fill="#fff" stroke="#9d4df6" stroke-width="1.1"/>
<line x1="564.88" x2="570.28" y1="142.7" y2="142.7" stroke="#9d4df6" stroke-width="1.3"/>
<circle cx="567.58" cy="96.5" r="2.1" fill="#9d4df6"/>
<circle cx="567.58" cy="105" r="2.1" fill="#9d4df6"/>
<circle cx="567.58" cy="173.3" r="2.1" fill="#9d4df6"/>
<circle cx="567.58" cy="182.9" r="2.1" fill="#9d4df6"/>
<line x1="582.07" x2="582.07" y1="125.3" y2="142.2" stroke="#d9504f" stroke-width="1.1"/>
<line x1="582.07" x2="582.07" y1="157.3" y2="175.7" stroke="#d9504f" stroke-width="1.1"/>
<rect x="579.37" y="142.2" width="5.4" height="15.10" fill="#fff" stroke="#d9504f" stroke-width="1.1"/>
<line x1="579.37" x2="584.77" y1="148.4" y2="148.4" stroke="#d9504f" stroke-width="1.3"/>
<circle cx="582.07" cy="99.9" r="2.1" fill="#d9504f"/>
<circle cx="582.07" cy="114.5" r="2.1" fill="#d9504f"/>
<circle cx="582.07" cy="189.2" r="2.1" fill="#d9504f"/>
<line x1="588.29" x2="588.29" y1="113.9" y2="130.4" stroke="#6e9e12" stroke-width="1.1"/>
<line x1="588.29" x2="588.29" y1="145" y2="161.6" stroke="#6e9e12" stroke-width="1.1"/>
<rect x="585.59" y="130.4" width="5.4" height="14.60" fill="#fff" stroke="#6e9e12" stroke-width="1.1"/>
<line x1="585.59" x2="590.99" y1="138.1" y2="138.1" stroke="#6e9e12" stroke-width="1.3"/>
<circle cx="588.29" cy="105.3" r="2.1" fill="#6e9e12"/>
<circle cx="588.29" cy="177.6" r="2.1" fill="#6e9e12"/>
<line x1="594.51" x2="594.51" y1="132" y2="141.9" stroke="#3ea8b6" stroke-width="1.1"/>
<line x1="594.51" x2="594.51" y1="149.3" y2="159.6" stroke="#3ea8b6" stroke-width="1.1"/>
<rect x="591.81" y="141.9" width="5.4" height="7.40" fill="#fff" stroke="#3ea8b6" stroke-width="1.1"/>
<line x1="591.81" x2="597.21" y1="145" y2="145" stroke="#3ea8b6" stroke-width="1.3"/>
<circle cx="594.51" cy="129.3" r="2.1" fill="#3ea8b6"/>
<circle cx="594.51" cy="162" r="2.1" fill="#3ea8b6"/>
<circle cx="594.51" cy="164.4" r="2.1" fill="#3ea8b6"/>
<circle cx="594.51" cy="174.2" r="2.1" fill="#3ea8b6"/>
<line x1="600.73" x2="600.73" y1="119.2" y2="134.5" stroke="#9d4df6" stroke-width="1.1"/>
<line x1="600.73" x2="600.73" y1="145.3" y2="157.3" stroke="#9d4df6" stroke-width="1.1"/>
<rect x="598.03" y="134.5" width="5.4" height="10.80" fill="#fff" stroke="#9d4df6" stroke-width="1.1"/>
<line x1="598.03" x2="603.43" y1="139.9" y2="139.9" stroke="#9d4df6" stroke-width="1.3"/>
<circle cx="600.73" cy="112.2" r="2.1" fill="#9d4df6"/>
<circle cx="600.73" cy="162.4" r="2.1" fill="#9d4df6"/>
<circle cx="600.73" cy="168.5" r="2.1" fill="#9d4df6"/>
<circle cx="600.73" cy="170" r="2.1" fill="#9d4df6"/>
<circle cx="600.73" cy="175.2" r="2.1" fill="#9d4df6"/>
<line x1="615.22" x2="615.22" y1="105" y2="124.2" stroke="#d9504f" stroke-width="1.1"/>
<line x1="615.22" x2="615.22" y1="137.3" y2="155" stroke="#d9504f" stroke-width="1.1"/>
<rect x="612.52" y="124.2" width="5.4" height="13.10" fill="#fff" stroke="#d9504f" stroke-width="1.1"/>
<line x1="612.52" x2="617.92" y1="131.2" y2="131.2" stroke="#d9504f" stroke-width="1.3"/>
<circle cx="615.22" cy="95.8" r="2.1" fill="#d9504f"/>
<circle cx="615.22" cy="158" r="2.1" fill="#d9504f"/>
<circle cx="615.22" cy="159.6" r="2.1" fill="#d9504f"/>
<circle cx="615.22" cy="169.8" r="2.1" fill="#d9504f"/>
<line x1="621.44" x2="621.44" y1="117.3" y2="135" stroke="#6e9e12" stroke-width="1.1"/>
<line x1="621.44" x2="621.44" y1="147.3" y2="165.3" stroke="#6e9e12" stroke-width="1.1"/>
<rect x="618.74" y="135" width="5.4" height="12.30" fill="#fff" stroke="#6e9e12" stroke-width="1.1"/>
<line x1="618.74" x2="624.14" y1="140.4" y2="140.4" stroke="#6e9e12" stroke-width="1.3"/>
<circle cx="621.44" cy="102" r="2.1" fill="#6e9e12"/>
<circle cx="621.44" cy="104" r="2.1" fill="#6e9e12"/>
<circle cx="621.44" cy="106" r="2.1" fill="#6e9e12"/>
<circle cx="621.44" cy="108" r="2.1" fill="#6e9e12"/>
<circle cx="621.44" cy="110" r="2.1" fill="#6e9e12"/>
<circle cx="621.44" cy="112" r="2.1" fill="#6e9e12"/>
<circle cx="621.44" cy="113.5" r="2.1" fill="#6e9e12"/>
<circle cx="621.44" cy="166.5" r="2.1" fill="#6e9e12"/>
<line x1="627.66" x2="627.66" y1="122" y2="131.5" stroke="#3ea8b6" stroke-width="1.1"/>
<line x1="627.66" x2="627.66" y1="138.8" y2="148.8" stroke="#3ea8b6" stroke-width="1.1"/>
<rect x="624.96" y="131.5" width="5.4" height="7.30" fill="#fff" stroke="#3ea8b6" stroke-width="1.1"/>
<line x1="624.96" x2="630.36" y1="135" y2="135" stroke="#3ea8b6" stroke-width="1.3"/>
<circle cx="627.66" cy="115.8" r="2.1" fill="#3ea8b6"/>
<circle cx="627.66" cy="120.1" r="2.1" fill="#3ea8b6"/>
<line x1="633.88" x2="633.88" y1="120" y2="132.7" stroke="#9d4df6" stroke-width="1.1"/>
<line x1="633.88" x2="633.88" y1="142.2" y2="154.2" stroke="#9d4df6" stroke-width="1.1"/>
<rect x="631.18" y="132.7" width="5.4" height="9.50" fill="#fff" stroke="#9d4df6" stroke-width="1.1"/>
<line x1="631.18" x2="636.58" y1="137" y2="137" stroke="#9d4df6" stroke-width="1.3"/>
<circle cx="633.88" cy="117.6" r="2.1" fill="#9d4df6"/>
<circle cx="633.88" cy="157" r="2.1" fill="#9d4df6"/>
<circle cx="633.88" cy="158" r="2.1" fill="#9d4df6"/>
<circle cx="633.88" cy="169.3" r="2.1" fill="#9d4df6"/>
<line x1="648.37" x2="648.37" y1="104" y2="121.1" stroke="#d9504f" stroke-width="1.1"/>
<line x1="648.37" x2="648.37" y1="133.5" y2="148.4" stroke="#d9504f" stroke-width="1.1"/>
<rect x="645.67" y="121.1" width="5.4" height="12.40" fill="#fff" stroke="#d9504f" stroke-width="1.1"/>
<line x1="645.67" x2="651.07" y1="129.2" y2="129.2" stroke="#d9504f" stroke-width="1.3"/>
<circle cx="648.37" cy="93.8" r="2.1" fill="#d9504f"/>
<circle cx="648.37" cy="102.2" r="2.1" fill="#d9504f"/>
<circle cx="648.37" cy="166.8" r="2.1" fill="#d9504f"/>
<line x1="654.59" x2="654.59" y1="124.7" y2="136.4" stroke="#6e9e12" stroke-width="1.1"/>
<line x1="654.59" x2="654.59" y1="145.3" y2="158" stroke="#6e9e12" stroke-width="1.1"/>
<rect x="651.89" y="136.4" width="5.4" height="8.90" fill="#fff" stroke="#6e9e12" stroke-width="1.1"/>
<line x1="651.89" x2="657.29" y1="141.2" y2="141.2" stroke="#6e9e12" stroke-width="1.3"/>
<circle cx="654.59" cy="120.6" r="2.1" fill="#6e9e12"/>
<circle cx="654.59" cy="159.6" r="2.1" fill="#6e9e12"/>
<circle cx="654.59" cy="167.8" r="2.1" fill="#6e9e12"/>
<line x1="660.81" x2="660.81" y1="132" y2="133.3" stroke="#3ea8b6" stroke-width="1.1"/>
<line x1="660.81" x2="660.81" y1="137.3" y2="139.6" stroke="#3ea8b6" stroke-width="1.1"/>
<rect x="658.11" y="133.3" width="5.4" height="4.00" fill="#3ea8b6" stroke="#3ea8b6" stroke-width="1.1"/>
<line x1="658.11" x2="663.51" y1="135" y2="135" stroke="#3ea8b6" stroke-width="1.3"/>
<circle cx="660.81" cy="123.5" r="2.1" fill="#3ea8b6"/>
<circle cx="660.81" cy="125.5" r="2.1" fill="#3ea8b6"/>
<circle cx="660.81" cy="127.5" r="2.1" fill="#3ea8b6"/>
<circle cx="660.81" cy="130" r="2.1" fill="#3ea8b6"/>
<line x1="667.03" x2="667.03" y1="125" y2="134" stroke="#9d4df6" stroke-width="1.1"/>
<line x1="667.03" x2="667.03" y1="140" y2="148" stroke="#9d4df6" stroke-width="1.1"/>
<rect x="664.33" y="134" width="5.4" height="6.00" fill="#fff" stroke="#9d4df6" stroke-width="1.1"/>
<line x1="664.33" x2="669.73" y1="136.5" y2="136.5" stroke="#9d4df6" stroke-width="1.3"/>
<circle cx="667.03" cy="118.5" r="2.1" fill="#9d4df6"/>
<circle cx="667.03" cy="121" r="2.1" fill="#9d4df6"/>
<circle cx="667.03" cy="123" r="2.1" fill="#9d4df6"/>
<circle cx="667.03" cy="149.6" r="2.1" fill="#9d4df6"/>
<circle cx="667.03" cy="152.7" r="2.1" fill="#9d4df6"/>
<line x1="436.7" x2="438.9" y1="31.90" y2="31.90" stroke="#333" stroke-width="1"/>
<text transform="translate(434.70 32.50) scale(1 1.07)" text-anchor="end" dominant-baseline="central" font-size="7.8" fill="#4d4d4d" stroke="#4d4d4d" stroke-width="0.12">0.06</text>
<line x1="436.7" x2="438.9" y1="85.55" y2="85.55" stroke="#333" stroke-width="1"/>
<text transform="translate(434.70 86.15) scale(1 1.07)" text-anchor="end" dominant-baseline="central" font-size="7.8" fill="#4d4d4d" stroke="#4d4d4d" stroke-width="0.12">0.03</text>
<line x1="436.7" x2="438.9" y1="139.20" y2="139.20" stroke="#333" stroke-width="1"/>
<text transform="translate(434.70 139.80) scale(1 1.07)" text-anchor="end" dominant-baseline="central" font-size="7.8" fill="#4d4d4d" stroke="#4d4d4d" stroke-width="0.12">0.00</text>
<line x1="436.7" x2="438.9" y1="192.85" y2="192.85" stroke="#333" stroke-width="1"/>
<text transform="translate(434.70 193.45) scale(1 1.07)" text-anchor="end" dominant-baseline="central" font-size="7.8" fill="#4d4d4d" stroke="#4d4d4d" stroke-width="0.12">−0.03</text>
<line x1="436.7" x2="438.9" y1="246.50" y2="246.50" stroke="#333" stroke-width="1"/>
<text transform="translate(434.70 247.10) scale(1 1.07)" text-anchor="end" dominant-baseline="central" font-size="7.8" fill="#4d4d4d" stroke="#4d4d4d" stroke-width="0.12">−0.06</text>
<line x1="458.80" x2="458.80" y1="246.5" y2="248.7" stroke="#333" stroke-width="1"/>
<text transform="translate(458.80 255.40) rotate(-20) scale(1 1.07)" text-anchor="middle" dominant-baseline="central" font-size="7.75" fill="#4d4d4d" stroke="#4d4d4d" stroke-width="0.12">Singletons</text>
<line x1="491.95" x2="491.95" y1="246.5" y2="248.7" stroke="#333" stroke-width="1"/>
<text transform="translate(491.95 255.40) rotate(-20) scale(1 1.07)" text-anchor="middle" dominant-baseline="central" font-size="7.75" fill="#4d4d4d" stroke="#4d4d4d" stroke-width="0.12">Doubletons</text>
<line x1="525.10" x2="525.10" y1="246.5" y2="248.7" stroke="#333" stroke-width="1"/>
<text transform="translate(525.10 255.40) rotate(-20) scale(1 1.07)" text-anchor="middle" dominant-baseline="central" font-size="7.75" fill="#4d4d4d" stroke="#4d4d4d" stroke-width="0.12">MAC = 3 – 5</text>
<line x1="558.25" x2="558.25" y1="246.5" y2="248.7" stroke="#333" stroke-width="1"/>
<text transform="translate(558.25 255.40) rotate(-20) scale(1 1.07)" text-anchor="middle" dominant-baseline="central" font-size="7.75" fill="#4d4d4d" stroke="#4d4d4d" stroke-width="0.12">MAC = 6 – 10</text>
<line x1="591.40" x2="591.40" y1="246.5" y2="248.7" stroke="#333" stroke-width="1"/>
<text transform="translate(591.40 255.40) rotate(-20) scale(1 1.07)" text-anchor="middle" dominant-baseline="central" font-size="7.75" fill="#4d4d4d" stroke="#4d4d4d" stroke-width="0.12">MAC = 11 – 20</text>
<line x1="624.55" x2="624.55" y1="246.5" y2="248.7" stroke="#333" stroke-width="1"/>
<text transform="translate(624.55 255.40) rotate(-20) scale(1 1.07)" text-anchor="middle" dominant-baseline="central" font-size="7.75" fill="#4d4d4d" stroke="#4d4d4d" stroke-width="0.12">MAC = 21 – MAF 0.5%</text>
<line x1="657.70" x2="657.70" y1="246.5" y2="248.7" stroke="#333" stroke-width="1"/>
<text transform="translate(657.70 255.40) rotate(-20) scale(1 1.07)" text-anchor="middle" dominant-baseline="central" font-size="7.75" fill="#4d4d4d" stroke="#4d4d4d" stroke-width="0.12">MAF 0.5% – MAF 1%</text>
<text transform="translate(407.90 139.20) rotate(-90) scale(1 1.07)" text-anchor="middle" dominant-baseline="central" font-size="9.8" fill="#000" stroke="#000" stroke-width="0.15">gnomAD proportion – AFS function proportion</text>
<rect x="688.3" y="115" width="12.9" height="61" fill="#f2f2f2"/>
<line x1="694.8" x2="694.8" y1="116.70" y2="127.90" stroke="#d9504f" stroke-width="1"/>
<rect x="689.8" y="118.60" width="10" height="7.4" fill="#fff" stroke="#d9504f" stroke-width="1.1"/>
<line x1="689.8" x2="699.8" y1="122.30" y2="122.30" stroke="#d9504f" stroke-width="1.1"/>
<text transform="translate(707.20 122.30) scale(1 1.07)" text-anchor="start" dominant-baseline="central" font-size="7.4" fill="#000" stroke="#000" stroke-width="0.1">AFR</text>
<line x1="694.8" x2="694.8" y1="131.95" y2="143.15" stroke="#6e9e12" stroke-width="1"/>
<rect x="689.8" y="133.85" width="10" height="7.4" fill="#fff" stroke="#6e9e12" stroke-width="1.1"/>
<line x1="689.8" x2="699.8" y1="137.55" y2="137.55" stroke="#6e9e12" stroke-width="1.1"/>
<text transform="translate(707.20 137.55) scale(1 1.07)" text-anchor="start" dominant-baseline="central" font-size="7.4" fill="#000" stroke="#000" stroke-width="0.1">EAS</text>
<line x1="694.8" x2="694.8" y1="147.20" y2="158.40" stroke="#3ea8b6" stroke-width="1"/>
<rect x="689.8" y="149.10" width="10" height="7.4" fill="#fff" stroke="#3ea8b6" stroke-width="1.1"/>
<line x1="689.8" x2="699.8" y1="152.80" y2="152.80" stroke="#3ea8b6" stroke-width="1.1"/>
<text transform="translate(707.20 152.80) scale(1 1.07)" text-anchor="start" dominant-baseline="central" font-size="7.4" fill="#000" stroke="#000" stroke-width="0.1">NFE</text>
<line x1="694.8" x2="694.8" y1="162.45" y2="173.65" stroke="#9d4df6" stroke-width="1"/>
<rect x="689.8" y="164.35" width="10" height="7.4" fill="#fff" stroke="#9d4df6" stroke-width="1.1"/>
<line x1="689.8" x2="699.8" y1="168.05" y2="168.05" stroke="#9d4df6" stroke-width="1.1"/>
<text transform="translate(707.20 168.05) scale(1 1.07)" text-anchor="start" dominant-baseline="central" font-size="7.4" fill="#000" stroke="#000" stroke-width="0.1">SAS</text>
</svg></body></html>
